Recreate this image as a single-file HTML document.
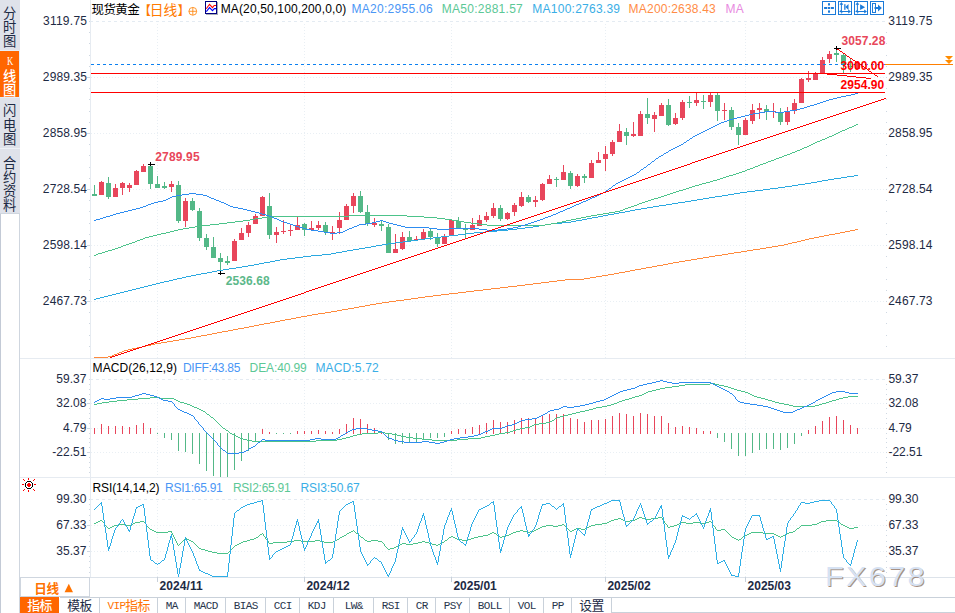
<!DOCTYPE html>
<html lang="zh"><head><meta charset="utf-8"><title>现货黄金 日线</title>
<style>
html,body{margin:0;padding:0;background:#fff;}
body{width:955px;height:613px;position:relative;overflow:hidden;font-family:"Liberation Sans",sans-serif;}
#c{position:absolute;left:0;top:0;}
.t{position:absolute;white-space:pre;font-family:"Liberation Sans",sans-serif;}
</style></head><body>
<svg id="c" width="955" height="613" viewBox="0 0 955 613" shape-rendering="crispEdges">
<rect x="0" y="0" width="20" height="214" fill="#dfe2ea"/>
<rect x="0" y="50" width="20" height="1" fill="#e6eef8"/>
<rect x="0" y="97" width="20" height="1" fill="#e6eef8"/>
<rect x="0" y="148" width="20" height="1" fill="#eef1f6"/>
<rect x="0" y="51" width="19" height="46" fill="#ff6600"/>
<rect x="19" y="51" width="1" height="46" fill="#e6eef8"/>
<rect x="0" y="214" width="1" height="399" fill="#c3cad6"/>
<rect x="19" y="214" width="1" height="399" fill="#cfd6df"/>
<rect x="0" y="213" width="20" height="1" fill="#cfd6df"/>
<g fill="#1d2a44" font-family="'Liberation Sans','Noto Sans CJK SC',sans-serif" font-size="13.3"><text x="2.9" y="18.05">分</text><text x="2.9" y="32.15">时</text><text x="2.9" y="46.25">图</text></g>
<g fill="#ffffff" font-family="'Liberation Sans','Noto Sans CJK SC',sans-serif" font-size="13.3" font-weight="500"><text x="2.9" y="80.85">线</text><text x="2.9" y="95.05">图</text></g>
<g fill="#1d2a44" font-family="'Liberation Sans','Noto Sans CJK SC',sans-serif" font-size="13.3"><text x="2.9" y="115.45">闪</text><text x="2.9" y="129.75">电</text><text x="2.9" y="144.05">图</text></g>
<g fill="#1d2a44" font-family="'Liberation Sans','Noto Sans CJK SC',sans-serif" font-size="13.3"><text x="2.9" y="168.45">合</text><text x="2.9" y="182.35">约</text><text x="2.9" y="196.15">资</text><text x="2.9" y="209.95">料</text></g>
<rect x="90" y="0" width="1" height="577" fill="#e6ebf1"/>
<rect x="20" y="358" width="935" height="1" fill="#e6ebf1"/>
<rect x="20" y="477" width="935" height="1" fill="#e6ebf1"/>
<rect x="20" y="577" width="935" height="1" fill="#dde3ea"/>
<rect x="60" y="597" width="895" height="1" fill="#c9d1da"/>
<rect x="611" y="612" width="344" height="1" fill="#c9d1da"/>
<line x1="90" y1="21.5" x2="885" y2="21.5" stroke="#e4ebf2" stroke-dasharray="3 3"/>
<line x1="91" y1="77.5" x2="885" y2="77.5" stroke="#e9eff4" stroke-dasharray="1 2"/>
<line x1="91" y1="133.5" x2="885" y2="133.5" stroke="#e9eff4" stroke-dasharray="1 2"/>
<line x1="91" y1="189.5" x2="885" y2="189.5" stroke="#e9eff4" stroke-dasharray="1 2"/>
<line x1="91" y1="245.5" x2="885" y2="245.5" stroke="#e9eff4" stroke-dasharray="1 2"/>
<line x1="91" y1="301.5" x2="885" y2="301.5" stroke="#e9eff4" stroke-dasharray="1 2"/>
<line x1="90" y1="379.5" x2="885" y2="379.5" stroke="#e4ebf2" stroke-dasharray="3 3"/>
<line x1="91" y1="403.5" x2="885" y2="403.5" stroke="#e9eff4" stroke-dasharray="1 2"/>
<line x1="91" y1="428.5" x2="885" y2="428.5" stroke="#e9eff4" stroke-dasharray="1 2"/>
<line x1="91" y1="452.5" x2="885" y2="452.5" stroke="#e9eff4" stroke-dasharray="1 2"/>
<line x1="90" y1="499.5" x2="885" y2="499.5" stroke="#e4ebf2" stroke-dasharray="3 3"/>
<line x1="91" y1="525.5" x2="885" y2="525.5" stroke="#e9eff4" stroke-dasharray="1 2"/>
<line x1="91" y1="551.5" x2="885" y2="551.5" stroke="#e9eff4" stroke-dasharray="1 2"/>
<line x1="157.5" y1="24" x2="157.5" y2="358" stroke="#e9eff4" stroke-dasharray="1 2"/>
<line x1="157.5" y1="381" x2="157.5" y2="477" stroke="#e9eff4" stroke-dasharray="1 2"/>
<line x1="157.5" y1="501" x2="157.5" y2="577" stroke="#e9eff4" stroke-dasharray="1 2"/>
<rect x="157" y="577" width="1" height="5" fill="#c9d1da"/>
<line x1="304.5" y1="24" x2="304.5" y2="358" stroke="#e9eff4" stroke-dasharray="1 2"/>
<line x1="304.5" y1="381" x2="304.5" y2="477" stroke="#e9eff4" stroke-dasharray="1 2"/>
<line x1="304.5" y1="501" x2="304.5" y2="577" stroke="#e9eff4" stroke-dasharray="1 2"/>
<rect x="304" y="577" width="1" height="5" fill="#c9d1da"/>
<line x1="451.5" y1="24" x2="451.5" y2="358" stroke="#e9eff4" stroke-dasharray="1 2"/>
<line x1="451.5" y1="381" x2="451.5" y2="477" stroke="#e9eff4" stroke-dasharray="1 2"/>
<line x1="451.5" y1="501" x2="451.5" y2="577" stroke="#e9eff4" stroke-dasharray="1 2"/>
<rect x="451" y="577" width="1" height="5" fill="#c9d1da"/>
<line x1="605.5" y1="24" x2="605.5" y2="358" stroke="#e9eff4" stroke-dasharray="1 2"/>
<line x1="605.5" y1="381" x2="605.5" y2="477" stroke="#e9eff4" stroke-dasharray="1 2"/>
<line x1="605.5" y1="501" x2="605.5" y2="577" stroke="#e9eff4" stroke-dasharray="1 2"/>
<rect x="605" y="577" width="1" height="5" fill="#c9d1da"/>
<line x1="745.5" y1="24" x2="745.5" y2="358" stroke="#e9eff4" stroke-dasharray="1 2"/>
<line x1="745.5" y1="381" x2="745.5" y2="477" stroke="#e9eff4" stroke-dasharray="1 2"/>
<line x1="745.5" y1="501" x2="745.5" y2="577" stroke="#e9eff4" stroke-dasharray="1 2"/>
<rect x="745" y="577" width="1" height="5" fill="#c9d1da"/>
<rect x="89" y="21" width="1" height="1" fill="#cfd8e2"/><rect x="89" y="32" width="1" height="1" fill="#cfd8e2"/><rect x="886" y="32" width="1" height="1" fill="#cfd8e2"/><rect x="89" y="43" width="1" height="1" fill="#cfd8e2"/><rect x="886" y="43" width="1" height="1" fill="#cfd8e2"/><rect x="89" y="55" width="1" height="1" fill="#cfd8e2"/><rect x="886" y="55" width="1" height="1" fill="#cfd8e2"/><rect x="89" y="66" width="1" height="1" fill="#cfd8e2"/><rect x="886" y="66" width="1" height="1" fill="#cfd8e2"/><rect x="87" y="77" width="3" height="1" fill="#cfd8e2"/><rect x="886" y="77" width="1" height="1" fill="#cfd8e2"/><rect x="89" y="88" width="1" height="1" fill="#cfd8e2"/><rect x="886" y="88" width="1" height="1" fill="#cfd8e2"/><rect x="89" y="99" width="1" height="1" fill="#cfd8e2"/><rect x="886" y="99" width="1" height="1" fill="#cfd8e2"/><rect x="89" y="111" width="1" height="1" fill="#cfd8e2"/><rect x="886" y="111" width="1" height="1" fill="#cfd8e2"/><rect x="89" y="122" width="1" height="1" fill="#cfd8e2"/><rect x="886" y="122" width="1" height="1" fill="#cfd8e2"/><rect x="87" y="133" width="3" height="1" fill="#cfd8e2"/><rect x="886" y="133" width="1" height="1" fill="#cfd8e2"/><rect x="89" y="144" width="1" height="1" fill="#cfd8e2"/><rect x="886" y="144" width="1" height="1" fill="#cfd8e2"/><rect x="89" y="155" width="1" height="1" fill="#cfd8e2"/><rect x="886" y="155" width="1" height="1" fill="#cfd8e2"/><rect x="89" y="167" width="1" height="1" fill="#cfd8e2"/><rect x="886" y="167" width="1" height="1" fill="#cfd8e2"/><rect x="89" y="178" width="1" height="1" fill="#cfd8e2"/><rect x="886" y="178" width="1" height="1" fill="#cfd8e2"/><rect x="87" y="189" width="3" height="1" fill="#cfd8e2"/><rect x="886" y="189" width="1" height="1" fill="#cfd8e2"/><rect x="89" y="200" width="1" height="1" fill="#cfd8e2"/><rect x="886" y="200" width="1" height="1" fill="#cfd8e2"/><rect x="89" y="211" width="1" height="1" fill="#cfd8e2"/><rect x="886" y="211" width="1" height="1" fill="#cfd8e2"/><rect x="89" y="223" width="1" height="1" fill="#cfd8e2"/><rect x="886" y="223" width="1" height="1" fill="#cfd8e2"/><rect x="89" y="234" width="1" height="1" fill="#cfd8e2"/><rect x="886" y="234" width="1" height="1" fill="#cfd8e2"/><rect x="87" y="245" width="3" height="1" fill="#cfd8e2"/><rect x="886" y="245" width="1" height="1" fill="#cfd8e2"/><rect x="89" y="256" width="1" height="1" fill="#cfd8e2"/><rect x="886" y="256" width="1" height="1" fill="#cfd8e2"/><rect x="89" y="267" width="1" height="1" fill="#cfd8e2"/><rect x="886" y="267" width="1" height="1" fill="#cfd8e2"/><rect x="89" y="279" width="1" height="1" fill="#cfd8e2"/><rect x="886" y="279" width="1" height="1" fill="#cfd8e2"/><rect x="89" y="290" width="1" height="1" fill="#cfd8e2"/><rect x="886" y="290" width="1" height="1" fill="#cfd8e2"/><rect x="87" y="301" width="3" height="1" fill="#cfd8e2"/><rect x="886" y="301" width="1" height="1" fill="#cfd8e2"/><rect x="89" y="312" width="1" height="1" fill="#cfd8e2"/><rect x="886" y="312" width="1" height="1" fill="#cfd8e2"/><rect x="89" y="323" width="1" height="1" fill="#cfd8e2"/><rect x="886" y="323" width="1" height="1" fill="#cfd8e2"/><rect x="89" y="335" width="1" height="1" fill="#cfd8e2"/><rect x="886" y="335" width="1" height="1" fill="#cfd8e2"/><rect x="89" y="346" width="1" height="1" fill="#cfd8e2"/><rect x="886" y="346" width="1" height="1" fill="#cfd8e2"/>
<rect x="89" y="379" width="1" height="1" fill="#cfd8e2"/><rect x="89" y="384" width="1" height="1" fill="#cfd8e2"/><rect x="886" y="384" width="1" height="1" fill="#cfd8e2"/><rect x="89" y="389" width="1" height="1" fill="#cfd8e2"/><rect x="886" y="389" width="1" height="1" fill="#cfd8e2"/><rect x="89" y="394" width="1" height="1" fill="#cfd8e2"/><rect x="886" y="394" width="1" height="1" fill="#cfd8e2"/><rect x="89" y="399" width="1" height="1" fill="#cfd8e2"/><rect x="886" y="399" width="1" height="1" fill="#cfd8e2"/><rect x="87" y="403" width="3" height="1" fill="#cfd8e2"/><rect x="886" y="403" width="1" height="1" fill="#cfd8e2"/><rect x="89" y="408" width="1" height="1" fill="#cfd8e2"/><rect x="886" y="408" width="1" height="1" fill="#cfd8e2"/><rect x="89" y="413" width="1" height="1" fill="#cfd8e2"/><rect x="886" y="413" width="1" height="1" fill="#cfd8e2"/><rect x="89" y="418" width="1" height="1" fill="#cfd8e2"/><rect x="886" y="418" width="1" height="1" fill="#cfd8e2"/><rect x="89" y="423" width="1" height="1" fill="#cfd8e2"/><rect x="886" y="423" width="1" height="1" fill="#cfd8e2"/><rect x="87" y="428" width="3" height="1" fill="#cfd8e2"/><rect x="886" y="428" width="1" height="1" fill="#cfd8e2"/><rect x="89" y="433" width="1" height="1" fill="#cfd8e2"/><rect x="886" y="433" width="1" height="1" fill="#cfd8e2"/><rect x="89" y="438" width="1" height="1" fill="#cfd8e2"/><rect x="886" y="438" width="1" height="1" fill="#cfd8e2"/><rect x="89" y="442" width="1" height="1" fill="#cfd8e2"/><rect x="886" y="442" width="1" height="1" fill="#cfd8e2"/><rect x="89" y="447" width="1" height="1" fill="#cfd8e2"/><rect x="886" y="447" width="1" height="1" fill="#cfd8e2"/><rect x="87" y="452" width="3" height="1" fill="#cfd8e2"/><rect x="886" y="452" width="1" height="1" fill="#cfd8e2"/><rect x="89" y="457" width="1" height="1" fill="#cfd8e2"/><rect x="886" y="457" width="1" height="1" fill="#cfd8e2"/><rect x="89" y="462" width="1" height="1" fill="#cfd8e2"/><rect x="886" y="462" width="1" height="1" fill="#cfd8e2"/><rect x="89" y="467" width="1" height="1" fill="#cfd8e2"/><rect x="886" y="467" width="1" height="1" fill="#cfd8e2"/><rect x="89" y="472" width="1" height="1" fill="#cfd8e2"/><rect x="886" y="472" width="1" height="1" fill="#cfd8e2"/>
<rect x="89" y="499" width="1" height="1" fill="#cfd8e2"/><rect x="89" y="504" width="1" height="1" fill="#cfd8e2"/><rect x="886" y="504" width="1" height="1" fill="#cfd8e2"/><rect x="89" y="509" width="1" height="1" fill="#cfd8e2"/><rect x="886" y="509" width="1" height="1" fill="#cfd8e2"/><rect x="89" y="515" width="1" height="1" fill="#cfd8e2"/><rect x="886" y="515" width="1" height="1" fill="#cfd8e2"/><rect x="89" y="520" width="1" height="1" fill="#cfd8e2"/><rect x="886" y="520" width="1" height="1" fill="#cfd8e2"/><rect x="87" y="525" width="3" height="1" fill="#cfd8e2"/><rect x="886" y="525" width="1" height="1" fill="#cfd8e2"/><rect x="89" y="530" width="1" height="1" fill="#cfd8e2"/><rect x="886" y="530" width="1" height="1" fill="#cfd8e2"/><rect x="89" y="535" width="1" height="1" fill="#cfd8e2"/><rect x="886" y="535" width="1" height="1" fill="#cfd8e2"/><rect x="89" y="541" width="1" height="1" fill="#cfd8e2"/><rect x="886" y="541" width="1" height="1" fill="#cfd8e2"/><rect x="89" y="546" width="1" height="1" fill="#cfd8e2"/><rect x="886" y="546" width="1" height="1" fill="#cfd8e2"/><rect x="87" y="551" width="3" height="1" fill="#cfd8e2"/><rect x="886" y="551" width="1" height="1" fill="#cfd8e2"/><rect x="89" y="556" width="1" height="1" fill="#cfd8e2"/><rect x="886" y="556" width="1" height="1" fill="#cfd8e2"/><rect x="89" y="561" width="1" height="1" fill="#cfd8e2"/><rect x="886" y="561" width="1" height="1" fill="#cfd8e2"/><rect x="89" y="567" width="1" height="1" fill="#cfd8e2"/><rect x="886" y="567" width="1" height="1" fill="#cfd8e2"/><rect x="89" y="572" width="1" height="1" fill="#cfd8e2"/><rect x="886" y="572" width="1" height="1" fill="#cfd8e2"/>
<rect x="94" y="185" width="1" height="11" fill="#53b887"/><rect x="92" y="194" width="5" height="2" fill="#53b887"/><rect x="101" y="181" width="1" height="14" fill="#e8465b"/><rect x="99" y="182" width="5" height="13" fill="#e8465b"/><rect x="108" y="177" width="1" height="22" fill="#53b887"/><rect x="106" y="183" width="5" height="14" fill="#53b887"/><rect x="115" y="184" width="1" height="13" fill="#e8465b"/><rect x="113" y="188" width="5" height="9" fill="#e8465b"/><rect x="122" y="182" width="1" height="13" fill="#e8465b"/><rect x="120" y="183" width="5" height="5" fill="#e8465b"/><rect x="129" y="183" width="1" height="9" fill="#e8465b"/><rect x="127" y="185" width="5" height="3" fill="#e8465b"/><rect x="136" y="170" width="1" height="15" fill="#e8465b"/><rect x="134" y="171" width="5" height="14" fill="#e8465b"/><rect x="143" y="164" width="1" height="8" fill="#e8465b"/><rect x="141" y="166" width="5" height="6" fill="#e8465b"/><rect x="150" y="164" width="1" height="25" fill="#53b887"/><rect x="148" y="166" width="5" height="18" fill="#53b887"/><rect x="157" y="176" width="1" height="12" fill="#53b887"/><rect x="155" y="184" width="5" height="4" fill="#53b887"/><rect x="164" y="182" width="1" height="7" fill="#53b887"/><rect x="162" y="186" width="5" height="2" fill="#53b887"/><rect x="171" y="181" width="1" height="11" fill="#e8465b"/><rect x="169" y="184" width="5" height="3" fill="#e8465b"/><rect x="178" y="181" width="1" height="42" fill="#53b887"/><rect x="176" y="185" width="5" height="36" fill="#53b887"/><rect x="185" y="198" width="1" height="29" fill="#e8465b"/><rect x="183" y="201" width="5" height="20" fill="#e8465b"/><rect x="192" y="198" width="1" height="13" fill="#53b887"/><rect x="190" y="201" width="5" height="9" fill="#53b887"/><rect x="199" y="208" width="1" height="33" fill="#53b887"/><rect x="197" y="211" width="5" height="27" fill="#53b887"/><rect x="206" y="234" width="1" height="16" fill="#53b887"/><rect x="204" y="238" width="5" height="9" fill="#53b887"/><rect x="213" y="237" width="1" height="21" fill="#53b887"/><rect x="211" y="247" width="5" height="11" fill="#53b887"/><rect x="220" y="253" width="1" height="19" fill="#53b887"/><rect x="218" y="258" width="5" height="4" fill="#53b887"/><rect x="227" y="256" width="1" height="9" fill="#53b887"/><rect x="225" y="261" width="5" height="2" fill="#53b887"/><rect x="234" y="239" width="1" height="22" fill="#e8465b"/><rect x="232" y="241" width="5" height="20" fill="#e8465b"/><rect x="241" y="228" width="1" height="12" fill="#e8465b"/><rect x="239" y="233" width="5" height="7" fill="#e8465b"/><rect x="248" y="222" width="1" height="15" fill="#e8465b"/><rect x="246" y="225" width="5" height="8" fill="#e8465b"/><rect x="255" y="214" width="1" height="10" fill="#e8465b"/><rect x="253" y="216" width="5" height="8" fill="#e8465b"/><rect x="262" y="196" width="1" height="20" fill="#e8465b"/><rect x="260" y="197" width="5" height="19" fill="#e8465b"/><rect x="269" y="193" width="1" height="46" fill="#53b887"/><rect x="267" y="206" width="5" height="29" fill="#53b887"/><rect x="276" y="227" width="1" height="16" fill="#e8465b"/><rect x="274" y="232" width="5" height="3" fill="#e8465b"/><rect x="283" y="220" width="1" height="14" fill="#e8465b"/><rect x="281" y="231" width="5" height="1" fill="#e8465b"/><rect x="290" y="225" width="1" height="11" fill="#e8465b"/><rect x="288" y="230" width="5" height="1" fill="#e8465b"/><rect x="297" y="217" width="1" height="13" fill="#e8465b"/><rect x="295" y="225" width="5" height="5" fill="#e8465b"/><rect x="304" y="223" width="1" height="13" fill="#53b887"/><rect x="302" y="224" width="5" height="6" fill="#53b887"/><rect x="311" y="221" width="1" height="9" fill="#e8465b"/><rect x="309" y="228" width="5" height="2" fill="#e8465b"/><rect x="318" y="221" width="1" height="9" fill="#e8465b"/><rect x="316" y="225" width="5" height="3" fill="#e8465b"/><rect x="325" y="222" width="1" height="13" fill="#53b887"/><rect x="323" y="225" width="5" height="7" fill="#53b887"/><rect x="332" y="226" width="1" height="14" fill="#e8465b"/><rect x="330" y="232" width="5" height="1" fill="#e8465b"/><rect x="339" y="212" width="1" height="22" fill="#e8465b"/><rect x="337" y="220" width="5" height="8" fill="#e8465b"/><rect x="346" y="204" width="1" height="16" fill="#e8465b"/><rect x="344" y="206" width="5" height="14" fill="#e8465b"/><rect x="353" y="193" width="1" height="20" fill="#e8465b"/><rect x="351" y="196" width="5" height="10" fill="#e8465b"/><rect x="360" y="191" width="1" height="22" fill="#53b887"/><rect x="358" y="196" width="5" height="16" fill="#53b887"/><rect x="367" y="205" width="1" height="21" fill="#53b887"/><rect x="365" y="212" width="5" height="12" fill="#53b887"/><rect x="374" y="218" width="1" height="9" fill="#e8465b"/><rect x="372" y="223" width="5" height="2" fill="#e8465b"/><rect x="381" y="220" width="1" height="11" fill="#53b887"/><rect x="379" y="224" width="5" height="2" fill="#53b887"/><rect x="388" y="224" width="1" height="29" fill="#53b887"/><rect x="386" y="227" width="5" height="26" fill="#53b887"/><rect x="395" y="234" width="1" height="19" fill="#e8465b"/><rect x="393" y="249" width="5" height="4" fill="#e8465b"/><rect x="402" y="232" width="1" height="18" fill="#e8465b"/><rect x="400" y="237" width="5" height="12" fill="#e8465b"/><rect x="409" y="231" width="1" height="10" fill="#53b887"/><rect x="407" y="237" width="5" height="4" fill="#53b887"/><rect x="416" y="236" width="1" height="4" fill="#e8465b"/><rect x="414" y="239" width="5" height="1" fill="#e8465b"/><rect x="423" y="229" width="1" height="10" fill="#e8465b"/><rect x="421" y="232" width="5" height="7" fill="#e8465b"/><rect x="430" y="229" width="1" height="11" fill="#53b887"/><rect x="428" y="231" width="5" height="6" fill="#53b887"/><rect x="437" y="233" width="1" height="14" fill="#53b887"/><rect x="435" y="237" width="5" height="7" fill="#53b887"/><rect x="444" y="234" width="1" height="10" fill="#e8465b"/><rect x="442" y="236" width="5" height="8" fill="#e8465b"/><rect x="451" y="219" width="1" height="17" fill="#e8465b"/><rect x="449" y="220" width="5" height="16" fill="#e8465b"/><rect x="458" y="217" width="1" height="12" fill="#53b887"/><rect x="456" y="221" width="5" height="8" fill="#53b887"/><rect x="465" y="224" width="1" height="14" fill="#53b887"/><rect x="463" y="229" width="5" height="1" fill="#53b887"/><rect x="472" y="218" width="1" height="12" fill="#e8465b"/><rect x="470" y="225" width="5" height="5" fill="#e8465b"/><rect x="479" y="215" width="1" height="11" fill="#e8465b"/><rect x="477" y="220" width="5" height="6" fill="#e8465b"/><rect x="486" y="212" width="1" height="10" fill="#e8465b"/><rect x="484" y="216" width="5" height="4" fill="#e8465b"/><rect x="493" y="203" width="1" height="15" fill="#e8465b"/><rect x="491" y="208" width="5" height="8" fill="#e8465b"/><rect x="500" y="205" width="1" height="16" fill="#53b887"/><rect x="498" y="208" width="5" height="11" fill="#53b887"/><rect x="507" y="212" width="1" height="8" fill="#e8465b"/><rect x="505" y="213" width="5" height="6" fill="#e8465b"/><rect x="514" y="203" width="1" height="13" fill="#e8465b"/><rect x="512" y="205" width="5" height="7" fill="#e8465b"/><rect x="521" y="192" width="1" height="15" fill="#e8465b"/><rect x="519" y="197" width="5" height="9" fill="#e8465b"/><rect x="528" y="195" width="1" height="8" fill="#53b887"/><rect x="526" y="197" width="5" height="5" fill="#53b887"/><rect x="535" y="196" width="1" height="11" fill="#e8465b"/><rect x="533" y="200" width="5" height="2" fill="#e8465b"/><rect x="542" y="183" width="1" height="18" fill="#e8465b"/><rect x="540" y="184" width="5" height="16" fill="#e8465b"/><rect x="549" y="175" width="1" height="9" fill="#e8465b"/><rect x="547" y="179" width="5" height="5" fill="#e8465b"/><rect x="556" y="177" width="1" height="10" fill="#53b887"/><rect x="554" y="179" width="5" height="1" fill="#53b887"/><rect x="563" y="165" width="1" height="15" fill="#e8465b"/><rect x="561" y="172" width="5" height="8" fill="#e8465b"/><rect x="570" y="171" width="1" height="18" fill="#53b887"/><rect x="568" y="173" width="5" height="13" fill="#53b887"/><rect x="577" y="174" width="1" height="13" fill="#e8465b"/><rect x="575" y="176" width="5" height="10" fill="#e8465b"/><rect x="584" y="174" width="1" height="9" fill="#53b887"/><rect x="582" y="176" width="5" height="2" fill="#53b887"/><rect x="591" y="160" width="1" height="18" fill="#e8465b"/><rect x="589" y="163" width="5" height="15" fill="#e8465b"/><rect x="598" y="152" width="1" height="11" fill="#e8465b"/><rect x="596" y="160" width="5" height="3" fill="#e8465b"/><rect x="605" y="146" width="1" height="25" fill="#e8465b"/><rect x="603" y="154" width="5" height="5" fill="#e8465b"/><rect x="612" y="140" width="1" height="16" fill="#e8465b"/><rect x="610" y="142" width="5" height="12" fill="#e8465b"/><rect x="619" y="124" width="1" height="18" fill="#e8465b"/><rect x="617" y="131" width="5" height="11" fill="#e8465b"/><rect x="626" y="128" width="1" height="17" fill="#53b887"/><rect x="624" y="132" width="5" height="4" fill="#53b887"/><rect x="633" y="122" width="1" height="15" fill="#e8465b"/><rect x="631" y="134" width="5" height="2" fill="#e8465b"/><rect x="640" y="111" width="1" height="25" fill="#e8465b"/><rect x="638" y="114" width="5" height="22" fill="#e8465b"/><rect x="647" y="98" width="1" height="26" fill="#53b887"/><rect x="645" y="114" width="5" height="4" fill="#53b887"/><rect x="654" y="112" width="1" height="20" fill="#e8465b"/><rect x="652" y="115" width="5" height="4" fill="#e8465b"/><rect x="661" y="103" width="1" height="13" fill="#e8465b"/><rect x="659" y="105" width="5" height="11" fill="#e8465b"/><rect x="668" y="99" width="1" height="27" fill="#53b887"/><rect x="666" y="105" width="5" height="20" fill="#53b887"/><rect x="675" y="113" width="1" height="12" fill="#e8465b"/><rect x="673" y="118" width="5" height="6" fill="#e8465b"/><rect x="682" y="100" width="1" height="20" fill="#e8465b"/><rect x="680" y="102" width="5" height="16" fill="#e8465b"/><rect x="689" y="96" width="1" height="12" fill="#53b887"/><rect x="687" y="102" width="5" height="1" fill="#53b887"/><rect x="696" y="93" width="1" height="13" fill="#e8465b"/><rect x="694" y="100" width="5" height="3" fill="#e8465b"/><rect x="703" y="95" width="1" height="14" fill="#53b887"/><rect x="701" y="101" width="5" height="1" fill="#53b887"/><rect x="710" y="93" width="1" height="14" fill="#e8465b"/><rect x="708" y="95" width="5" height="7" fill="#e8465b"/><rect x="717" y="93" width="1" height="28" fill="#53b887"/><rect x="715" y="95" width="5" height="16" fill="#53b887"/><rect x="724" y="103" width="1" height="17" fill="#e8465b"/><rect x="722" y="110" width="5" height="1" fill="#e8465b"/><rect x="731" y="107" width="1" height="23" fill="#53b887"/><rect x="729" y="110" width="5" height="17" fill="#53b887"/><rect x="738" y="123" width="1" height="22" fill="#53b887"/><rect x="736" y="127" width="5" height="8" fill="#53b887"/><rect x="745" y="118" width="1" height="17" fill="#e8465b"/><rect x="743" y="120" width="5" height="15" fill="#e8465b"/><rect x="752" y="104" width="1" height="20" fill="#e8465b"/><rect x="750" y="110" width="5" height="11" fill="#e8465b"/><rect x="759" y="103" width="1" height="16" fill="#e8465b"/><rect x="757" y="108" width="5" height="2" fill="#e8465b"/><rect x="766" y="105" width="1" height="15" fill="#53b887"/><rect x="764" y="109" width="5" height="3" fill="#53b887"/><rect x="773" y="103" width="1" height="15" fill="#e8465b"/><rect x="771" y="111" width="5" height="1" fill="#e8465b"/><rect x="780" y="108" width="1" height="17" fill="#53b887"/><rect x="778" y="112" width="5" height="10" fill="#53b887"/><rect x="787" y="107" width="1" height="18" fill="#e8465b"/><rect x="785" y="111" width="5" height="11" fill="#e8465b"/><rect x="794" y="99" width="1" height="15" fill="#e8465b"/><rect x="792" y="103" width="5" height="8" fill="#e8465b"/><rect x="801" y="78" width="1" height="25" fill="#e8465b"/><rect x="799" y="79" width="5" height="24" fill="#e8465b"/><rect x="808" y="71" width="1" height="11" fill="#e8465b"/><rect x="806" y="78" width="5" height="2" fill="#e8465b"/><rect x="815" y="72" width="1" height="8" fill="#e8465b"/><rect x="813" y="73" width="5" height="7" fill="#e8465b"/><rect x="822" y="57" width="1" height="17" fill="#e8465b"/><rect x="820" y="60" width="5" height="14" fill="#e8465b"/><rect x="829" y="51" width="1" height="12" fill="#e8465b"/><rect x="827" y="54" width="5" height="5" fill="#e8465b"/><rect x="836" y="48" width="1" height="14" fill="#53b887"/><rect x="834" y="53" width="5" height="2" fill="#53b887"/><rect x="843" y="53" width="1" height="20" fill="#53b887"/><rect x="841" y="55" width="5" height="10" fill="#53b887"/><rect x="850" y="59" width="1" height="13" fill="#53b887"/><rect x="848" y="66" width="5" height="1" fill="#53b887"/><rect x="857" y="63" width="1" height="6" fill="#e8465b"/><rect x="855" y="63" width="5" height="6" fill="#e8465b"/>
<path d="M94,357h14v1h-14zM108,356h4v1h-4zM112,355h2v1h-2zM114,354h3v1h-3zM117,353h2v1h-2zM119,352h3v1h-3zM122,351h2v1h-2zM124,350h4v1h-4zM128,349h4v1h-4zM132,348h5v1h-5zM137,347h5v1h-5zM142,346h4v1h-4zM146,345h5v1h-5zM151,344h4v1h-4zM155,343h6v1h-6zM161,342h6v1h-6zM167,341h6v1h-6zM173,340h6v1h-6zM179,339h6v1h-6zM185,338h6v1h-6zM191,337h5v1h-5zM196,336h5v1h-5zM201,335h6v1h-6zM207,334h5v1h-5zM212,333h5v1h-5zM217,332h5v1h-5zM222,331h6v1h-6zM228,330h5v1h-5zM233,329h5v1h-5zM238,328h6v1h-6zM244,327h5v1h-5zM249,326h5v1h-5zM254,325h5v1h-5zM259,324h5v1h-5zM264,323h6v1h-6zM270,322h5v1h-5zM275,321h5v1h-5zM280,320h5v1h-5zM285,319h6v1h-6zM291,318h5v1h-5zM296,317h5v1h-5zM301,316h6v1h-6zM307,315h5v1h-5zM312,314h6v1h-6zM318,313h7v1h-7zM325,312h6v1h-6zM331,311h6v1h-6zM337,310h5v1h-5zM342,309h6v1h-6zM348,308h6v1h-6zM354,307h5v1h-5zM359,306h6v1h-6zM365,305h5v1h-5zM370,304h6v1h-6zM376,303h6v1h-6zM382,302h7v1h-7zM389,301h7v1h-7zM396,300h8v1h-8zM404,299h7v1h-7zM411,298h7v1h-7zM418,297h7v1h-7zM425,296h8v1h-8zM433,295h8v1h-8zM441,294h8v1h-8zM449,293h9v1h-9zM458,292h8v1h-8zM466,291h8v1h-8zM474,290h9v1h-9zM483,289h8v1h-8zM491,288h9v1h-9zM500,287h8v1h-8zM508,286h9v1h-9zM517,285h8v1h-8zM525,284h8v1h-8zM533,283h8v1h-8zM541,282h8v1h-8zM549,281h8v1h-8zM557,280h8v1h-8zM565,279h19v1h-19zM584,278h6v1h-6zM590,277h6v1h-6zM596,276h6v1h-6zM602,275h6v1h-6zM608,274h6v1h-6zM614,273h5v1h-5zM619,272h6v1h-6zM625,271h5v1h-5zM630,270h5v1h-5zM635,269h6v1h-6zM641,268h5v1h-5zM646,267h6v1h-6zM652,266h5v1h-5zM657,265h6v1h-6zM663,264h5v1h-5zM668,263h5v1h-5zM673,262h6v1h-6zM679,261h6v1h-6zM685,260h6v1h-6zM691,259h6v1h-6zM697,258h6v1h-6zM703,257h6v1h-6zM709,256h6v1h-6zM715,255h7v1h-7zM722,254h6v1h-6zM728,253h6v1h-6zM734,252h7v1h-7zM741,251h6v1h-6zM747,250h6v1h-6zM753,249h7v1h-7zM760,248h6v1h-6zM766,247h6v1h-6zM772,246h6v1h-6zM778,245h6v1h-6zM784,244h4v1h-4zM788,243h4v1h-4zM792,242h5v1h-5zM797,241h4v1h-4zM801,240h4v1h-4zM805,239h4v1h-4zM809,238h5v1h-5zM814,237h5v1h-5zM819,236h5v1h-5zM824,235h5v1h-5zM829,234h6v1h-6zM835,233h5v1h-5zM840,232h5v1h-5zM845,231h5v1h-5zM850,230h5v1h-5zM855,229h3v1h-3z" fill="#ff8a3c" />
<path d="M94,299h2v1h-2zM96,298h4v1h-4zM100,297h4v1h-4zM104,296h4v1h-4zM108,295h4v1h-4zM112,294h4v1h-4zM116,293h4v1h-4zM120,292h4v1h-4zM124,291h4v1h-4zM128,290h4v1h-4zM132,289h4v1h-4zM136,288h4v1h-4zM140,287h4v1h-4zM144,286h4v1h-4zM148,285h4v1h-4zM152,284h4v1h-4zM156,283h4v1h-4zM160,282h4v1h-4zM164,281h5v1h-5zM169,280h4v1h-4zM173,279h4v1h-4zM177,278h5v1h-5zM182,277h4v1h-4zM186,276h5v1h-5zM191,275h5v1h-5zM196,274h5v1h-5zM201,273h6v1h-6zM207,272h5v1h-5zM212,271h5v1h-5zM217,270h6v1h-6zM223,269h6v1h-6zM229,268h7v1h-7zM236,267h6v1h-6zM242,266h6v1h-6zM248,265h6v1h-6zM254,264h5v1h-5zM259,263h5v1h-5zM264,262h6v1h-6zM270,261h5v1h-5zM275,260h5v1h-5zM280,259h7v1h-7zM287,258h8v1h-8zM295,257h8v1h-8zM303,256h8v1h-8zM311,255h11v1h-11zM322,254h9v1h-9zM331,253h5v1h-5zM336,252h6v1h-6zM342,251h5v1h-5zM347,250h6v1h-6zM353,249h6v1h-6zM359,248h6v1h-6zM365,247h6v1h-6zM371,246h5v1h-5zM376,245h6v1h-6zM382,244h6v1h-6zM388,243h7v1h-7zM395,242h8v1h-8zM403,241h8v1h-8zM411,240h7v1h-7zM418,239h7v1h-7zM425,238h8v1h-8zM433,237h8v1h-8zM441,236h8v1h-8zM449,235h9v1h-9zM458,234h8v1h-8zM466,233h8v1h-8zM474,232h11v1h-11zM485,231h12v1h-12zM497,230h11v1h-11zM508,229h9v1h-9zM517,228h8v1h-8zM525,227h8v1h-8zM533,226h6v1h-6zM539,225h6v1h-6zM545,224h6v1h-6zM551,223h11v1h-11zM562,222h9v1h-9zM571,221h5v1h-5zM576,220h6v1h-6zM582,219h5v1h-5zM587,218h5v1h-5zM592,217h6v1h-6zM598,216h5v1h-5zM603,215h5v1h-5zM608,214h6v1h-6zM614,213h5v1h-5zM619,212h6v1h-6zM625,211h5v1h-5zM630,210h5v1h-5zM635,209h6v1h-6zM641,208h6v1h-6zM647,207h6v1h-6zM653,206h6v1h-6zM659,205h7v1h-7zM666,204h6v1h-6zM672,203h6v1h-6zM678,202h7v1h-7zM685,201h6v1h-6zM691,200h6v1h-6zM697,199h6v1h-6zM703,198h6v1h-6zM709,197h6v1h-6zM715,196h7v1h-7zM722,195h6v1h-6zM728,194h6v1h-6zM734,193h6v1h-6zM740,192h7v1h-7zM747,191h8v1h-8zM755,190h8v1h-8zM763,189h7v1h-7zM770,188h8v1h-8zM778,187h7v1h-7zM785,186h7v1h-7zM792,185h6v1h-6zM798,184h7v1h-7zM805,183h6v1h-6zM811,182h6v1h-6zM817,181h5v1h-5zM822,180h6v1h-6zM828,179h6v1h-6zM834,178h7v1h-7zM841,177h6v1h-6zM847,176h7v1h-7zM854,175h4v1h-4z" fill="#2aa8e0" />
<path d="M94,255h2v1h-2zM96,254h2v1h-2zM98,253h4v1h-4zM102,252h3v1h-3zM105,251h3v1h-3zM108,250h4v1h-4zM112,249h3v1h-3zM115,248h3v1h-3zM118,247h3v1h-3zM121,246h2v1h-2zM123,245h3v1h-3zM126,244h3v1h-3zM129,243h3v1h-3zM132,242h3v1h-3zM135,241h2v1h-2zM137,240h3v1h-3zM140,239h3v1h-3zM143,238h2v1h-2zM145,237h4v1h-4zM149,236h4v1h-4zM153,235h4v1h-4zM157,234h4v1h-4zM161,233h5v1h-5zM166,232h4v1h-4zM170,231h4v1h-4zM174,230h4v1h-4zM178,229h5v1h-5zM183,228h6v1h-6zM189,227h6v1h-6zM195,226h7v1h-7zM202,225h8v1h-8zM210,224h9v1h-9zM219,223h8v1h-8zM227,222h8v1h-8zM235,221h8v1h-8zM243,220h7v1h-7zM250,219h5v1h-5zM255,218h7v1h-7zM262,217h8v1h-8zM270,216h79v1h-79zM349,215h58v1h-58zM407,216h17v1h-17zM424,217h13v1h-13zM437,218h8v1h-8zM445,219h7v1h-7zM452,220h6v1h-6zM458,221h6v1h-6zM464,222h7v1h-7zM471,223h8v1h-8zM479,224h8v1h-8zM487,225h58v1h-58zM545,224h6v1h-6zM551,223h6v1h-6zM557,222h5v1h-5zM562,221h4v1h-4zM566,220h5v1h-5zM571,219h5v1h-5zM576,218h5v1h-5zM581,217h5v1h-5zM586,216h5v1h-5zM591,215h6v1h-6zM597,214h6v1h-6zM603,213h6v1h-6zM609,212h6v1h-6zM615,211h5v1h-5zM620,210h3v1h-3zM623,209h2v1h-2zM625,208h3v1h-3zM628,207h3v1h-3zM631,206h3v1h-3zM634,205h3v1h-3zM637,204h2v1h-2zM639,203h3v1h-3zM642,202h3v1h-3zM645,201h3v1h-3zM648,200h3v1h-3zM651,199h3v1h-3zM654,198h4v1h-4zM658,197h3v1h-3zM661,196h3v1h-3zM664,195h3v1h-3zM667,194h3v1h-3zM670,193h3v1h-3zM673,192h3v1h-3zM676,191h3v1h-3zM679,190h4v1h-4zM683,189h3v1h-3zM686,188h3v1h-3zM689,187h3v1h-3zM692,186h3v1h-3zM695,185h4v1h-4zM699,184h3v1h-3zM702,183h4v1h-4zM706,182h4v1h-4zM710,181h3v1h-3zM713,180h4v1h-4zM717,179h3v1h-3zM720,178h3v1h-3zM723,177h3v1h-3zM726,176h3v1h-3zM729,175h4v1h-4zM733,174h3v1h-3zM736,173h3v1h-3zM739,172h3v1h-3zM742,171h3v1h-3zM745,170h2v1h-2zM747,169h3v1h-3zM750,168h3v1h-3zM753,167h2v1h-2zM755,166h3v1h-3zM758,165h2v1h-2zM760,164h3v1h-3zM763,163h3v1h-3zM766,162h2v1h-2zM768,161h3v1h-3zM771,160h3v1h-3zM774,159h2v1h-2zM776,158h3v1h-3zM779,157h3v1h-3zM782,156h2v1h-2zM784,155h3v1h-3zM787,154h3v1h-3zM790,153h2v1h-2zM792,152h3v1h-3zM795,151h2v1h-2zM797,150h3v1h-3zM800,149h2v1h-2zM802,148h2v1h-2zM804,147h3v1h-3zM807,146h2v1h-2zM809,145h2v1h-2zM811,144h2v1h-2zM813,143h2v1h-2zM815,142h2v1h-2zM817,141h3v1h-3zM820,140h2v1h-2zM822,139h3v1h-3zM825,138h2v1h-2zM827,137h2v1h-2zM829,136h3v1h-3zM832,135h2v1h-2zM834,134h2v1h-2zM836,133h2v1h-2zM838,132h2v1h-2zM840,131h2v1h-2zM842,130h3v1h-3zM845,129h2v1h-2zM847,128h2v1h-2zM849,127h3v1h-3zM852,126h2v1h-2zM854,125h2v1h-2zM856,124h2v1h-2z" fill="#4cc38a" />
<path d="M94,220h2v1h-2zM96,219h4v1h-4zM100,218h3v1h-3zM103,217h3v1h-3zM106,216h4v1h-4zM110,215h3v1h-3zM113,214h3v1h-3zM116,213h4v1h-4zM120,212h4v1h-4zM124,211h4v1h-4zM128,210h4v1h-4zM132,209h4v1h-4zM136,208h4v1h-4zM140,207h3v1h-3zM143,206h3v1h-3zM146,205h2v1h-2zM148,204h3v1h-3zM151,203h3v1h-3zM154,202h4v1h-4zM158,201h5v1h-5zM163,200h3v1h-3zM166,199h2v1h-2zM168,198h2v1h-2zM170,197h2v1h-2zM172,196h4v1h-4zM176,195h6v1h-6zM182,194h7v1h-7zM189,193h7v1h-7zM196,194h7v1h-7zM203,195h4v1h-4zM207,196h2v1h-2zM209,197h2v1h-2zM211,198h3v1h-3zM214,199h2v1h-2zM216,200h3v1h-3zM219,201h2v1h-2zM221,202h3v1h-3zM224,203h2v1h-2zM226,204h2v1h-2zM228,205h2v1h-2zM230,206h3v1h-3zM233,207h5v1h-5zM238,208h5v1h-5zM243,209h4v1h-4zM247,210h4v1h-4zM251,211h4v1h-4zM255,212h4v1h-4zM259,213h3v1h-3zM262,214h4v1h-4zM266,215h3v1h-3zM269,216h3v1h-3zM272,217h2v1h-2zM274,218h3v1h-3zM277,219h2v1h-2zM279,220h2v1h-2zM281,221h3v1h-3zM284,222h3v1h-3zM287,223h3v1h-3zM290,224h3v1h-3zM293,225h3v1h-3zM296,226h3v1h-3zM299,227h4v1h-4zM303,228h3v1h-3zM306,229h5v1h-5zM311,230h7v1h-7zM318,231h6v1h-6zM324,232h6v1h-6zM330,233h7v1h-7zM337,232h6v1h-6zM343,231h2v1h-2zM345,230h2v1h-2zM347,229h2v1h-2zM349,228h3v1h-3zM352,227h2v1h-2zM354,226h3v1h-3zM357,225h2v1h-2zM359,224h7v1h-7zM366,223h6v1h-6zM372,222h4v1h-4zM376,221h4v1h-4zM380,220h3v1h-3zM383,221h3v1h-3zM386,222h3v1h-3zM389,223h4v1h-4zM393,224h4v1h-4zM397,225h4v1h-4zM401,226h4v1h-4zM405,227h24v1h-24zM429,228h8v1h-8zM437,229h12v1h-12zM449,228h30v1h-30zM479,229h8v1h-8zM487,230h11v1h-11zM498,229h9v1h-9zM507,228h6v1h-6zM513,227h5v1h-5zM518,226h3v1h-3zM521,225h4v1h-4zM525,224h3v1h-3zM528,223h3v1h-3zM531,222h3v1h-3zM534,221h3v1h-3zM537,220h3v1h-3zM540,219h3v1h-3zM543,218h2v1h-2zM545,217h3v1h-3zM548,216h3v1h-3zM551,215h2v1h-2zM553,214h3v1h-3zM556,213h2v1h-2zM558,212h2v1h-2zM560,211h3v1h-3zM563,210h2v1h-2zM565,209h2v1h-2zM567,208h3v1h-3zM570,207h2v1h-2zM572,206h2v1h-2zM574,205h2v1h-2zM576,204h3v1h-3zM579,203h2v1h-2zM581,202h2v1h-2zM583,201h3v1h-3zM586,200h2v1h-2zM588,199h2v1h-2zM590,198h2v1h-2zM592,197h3v1h-3zM595,196h2v1h-2zM597,195h2v1h-2zM599,194h2v1h-2zM601,193h2v1h-2zM603,192h2v1h-2zM605,191h1v1h-1zM606,190h2v1h-2zM608,189h1v1h-1zM609,188h2v1h-2zM611,187h1v1h-1zM612,186h1v1h-1zM613,185h2v1h-2zM615,184h1v1h-1zM616,183h2v1h-2zM618,182h2v1h-2zM620,181h2v1h-2zM622,180h2v1h-2zM624,179h2v1h-2zM626,178h2v1h-2zM628,177h2v1h-2zM630,176h2v1h-2zM632,175h2v1h-2zM634,174h2v1h-2zM636,173h1v1h-1zM637,172h2v1h-2zM639,171h1v1h-1zM640,170h1v1h-1zM641,169h2v1h-2zM643,168h1v1h-1zM644,167h2v1h-2zM646,166h1v1h-1zM647,165h1v1h-1zM648,164h2v1h-2zM650,163h1v1h-1zM651,162h1v1h-1zM652,161h2v1h-2zM654,160h1v1h-1zM655,159h1v1h-1zM656,158h2v1h-2zM658,157h1v1h-1zM659,156h2v1h-2zM661,155h2v1h-2zM663,154h1v1h-1zM664,153h2v1h-2zM666,152h2v1h-2zM668,151h1v1h-1zM669,150h2v1h-2zM671,149h2v1h-2zM673,148h2v1h-2zM675,147h2v1h-2zM677,146h2v1h-2zM679,145h2v1h-2zM681,144h2v1h-2zM683,143h1v1h-1zM684,142h2v1h-2zM686,141h1v1h-1zM687,140h2v1h-2zM689,139h1v1h-1zM690,138h2v1h-2zM692,137h1v1h-1zM693,136h2v1h-2zM695,135h2v1h-2zM697,134h2v1h-2zM699,133h2v1h-2zM701,132h2v1h-2zM703,131h2v1h-2zM705,130h2v1h-2zM707,129h2v1h-2zM709,128h2v1h-2zM711,127h2v1h-2zM713,126h2v1h-2zM715,125h2v1h-2zM717,124h2v1h-2zM719,123h2v1h-2zM721,122h3v1h-3zM724,121h3v1h-3zM727,120h2v1h-2zM729,119h4v1h-4zM733,118h4v1h-4zM737,117h4v1h-4zM741,116h4v1h-4zM745,115h4v1h-4zM749,114h4v1h-4zM753,113h6v1h-6zM759,112h6v1h-6zM765,111h10v1h-10zM775,112h9v1h-9zM784,111h6v1h-6zM790,110h6v1h-6zM796,109h4v1h-4zM800,108h4v1h-4zM804,107h3v1h-3zM807,106h3v1h-3zM810,105h4v1h-4zM814,104h3v1h-3zM817,103h3v1h-3zM820,102h3v1h-3zM823,101h3v1h-3zM826,100h3v1h-3zM829,99h4v1h-4zM833,98h4v1h-4zM837,97h4v1h-4zM841,96h5v1h-5zM846,95h5v1h-5zM851,94h4v1h-4zM855,93h3v1h-3z" fill="#2d8cf0" />
<line x1="91" y1="64.5" x2="885" y2="64.5" stroke="#0b80f0" stroke-dasharray="3 3"/>
<rect x="91" y="73" width="794" height="1" fill="#ff0000"/>
<rect x="91" y="92" width="794" height="1" fill="#ff0000"/>
<path d="M110,357h2v1h-2zM112,356h3v1h-3zM115,355h3v1h-3zM118,354h3v1h-3zM121,353h3v1h-3zM124,352h3v1h-3zM127,351h3v1h-3zM130,350h3v1h-3zM133,349h3v1h-3zM136,348h3v1h-3zM139,347h3v1h-3zM142,346h3v1h-3zM145,345h3v1h-3zM148,344h3v1h-3zM151,343h3v1h-3zM154,342h3v1h-3zM157,341h3v1h-3zM160,340h3v1h-3zM163,339h3v1h-3zM166,338h3v1h-3zM169,337h3v1h-3zM172,336h3v1h-3zM175,335h3v1h-3zM178,334h3v1h-3zM181,333h3v1h-3zM184,332h3v1h-3zM187,331h3v1h-3zM190,330h3v1h-3zM193,329h3v1h-3zM196,328h3v1h-3zM199,327h3v1h-3zM202,326h3v1h-3zM205,325h3v1h-3zM208,324h3v1h-3zM211,323h3v1h-3zM214,322h3v1h-3zM217,321h3v1h-3zM220,320h3v1h-3zM223,319h3v1h-3zM226,318h3v1h-3zM229,317h3v1h-3zM232,316h3v1h-3zM235,315h3v1h-3zM238,314h3v1h-3zM241,313h3v1h-3zM244,312h3v1h-3zM247,311h3v1h-3zM250,310h3v1h-3zM253,309h3v1h-3zM256,308h3v1h-3zM259,307h3v1h-3zM262,306h3v1h-3zM265,305h3v1h-3zM268,304h3v1h-3zM271,303h3v1h-3zM274,302h3v1h-3zM277,301h3v1h-3zM280,300h3v1h-3zM283,299h3v1h-3zM286,298h3v1h-3zM289,297h3v1h-3zM292,296h3v1h-3zM295,295h3v1h-3zM298,294h3v1h-3zM301,293h3v1h-3zM304,292h2v1h-2zM306,291h3v1h-3zM309,290h3v1h-3zM312,289h3v1h-3zM315,288h3v1h-3zM318,287h3v1h-3zM321,286h3v1h-3zM324,285h3v1h-3zM327,284h3v1h-3zM330,283h3v1h-3zM333,282h3v1h-3zM336,281h3v1h-3zM339,280h3v1h-3zM342,279h3v1h-3zM345,278h3v1h-3zM348,277h3v1h-3zM351,276h3v1h-3zM354,275h3v1h-3zM357,274h3v1h-3zM360,273h3v1h-3zM363,272h3v1h-3zM366,271h3v1h-3zM369,270h3v1h-3zM372,269h3v1h-3zM375,268h3v1h-3zM378,267h3v1h-3zM381,266h3v1h-3zM384,265h3v1h-3zM387,264h3v1h-3zM390,263h3v1h-3zM393,262h3v1h-3zM396,261h3v1h-3zM399,260h3v1h-3zM402,259h3v1h-3zM405,258h3v1h-3zM408,257h3v1h-3zM411,256h3v1h-3zM414,255h3v1h-3zM417,254h3v1h-3zM420,253h3v1h-3zM423,252h3v1h-3zM426,251h3v1h-3zM429,250h3v1h-3zM432,249h3v1h-3zM435,248h3v1h-3zM438,247h3v1h-3zM441,246h3v1h-3zM444,245h3v1h-3zM447,244h3v1h-3zM450,243h3v1h-3zM453,242h3v1h-3zM456,241h3v1h-3zM459,240h3v1h-3zM462,239h3v1h-3zM465,238h3v1h-3zM468,237h3v1h-3zM471,236h3v1h-3zM474,235h3v1h-3zM477,234h3v1h-3zM480,233h3v1h-3zM483,232h3v1h-3zM486,231h3v1h-3zM489,230h3v1h-3zM492,229h3v1h-3zM495,228h3v1h-3zM498,227h3v1h-3zM501,226h3v1h-3zM504,225h3v1h-3zM507,224h3v1h-3zM510,223h3v1h-3zM513,222h3v1h-3zM516,221h3v1h-3zM519,220h3v1h-3zM522,219h3v1h-3zM525,218h3v1h-3zM528,217h3v1h-3zM531,216h3v1h-3zM534,215h3v1h-3zM537,214h3v1h-3zM540,213h3v1h-3zM543,212h3v1h-3zM546,211h3v1h-3zM549,210h3v1h-3zM552,209h3v1h-3zM555,208h3v1h-3zM558,207h3v1h-3zM561,206h3v1h-3zM564,205h3v1h-3zM567,204h3v1h-3zM570,203h3v1h-3zM573,202h3v1h-3zM576,201h3v1h-3zM579,200h3v1h-3zM582,199h3v1h-3zM585,198h3v1h-3zM588,197h3v1h-3zM591,196h3v1h-3zM594,195h3v1h-3zM597,194h3v1h-3zM600,193h3v1h-3zM603,192h3v1h-3zM606,191h3v1h-3zM609,190h3v1h-3zM612,189h3v1h-3zM615,188h3v1h-3zM618,187h3v1h-3zM621,186h3v1h-3zM624,185h3v1h-3zM627,184h3v1h-3zM630,183h3v1h-3zM633,182h3v1h-3zM636,181h3v1h-3zM639,180h3v1h-3zM642,179h3v1h-3zM645,178h3v1h-3zM648,177h3v1h-3zM651,176h3v1h-3zM654,175h3v1h-3zM657,174h3v1h-3zM660,173h3v1h-3zM663,172h3v1h-3zM666,171h3v1h-3zM669,170h3v1h-3zM672,169h3v1h-3zM675,168h3v1h-3zM678,167h3v1h-3zM681,166h3v1h-3zM684,165h3v1h-3zM687,164h3v1h-3zM690,163h2v1h-2zM692,162h3v1h-3zM695,161h3v1h-3zM698,160h3v1h-3zM701,159h3v1h-3zM704,158h3v1h-3zM707,157h3v1h-3zM710,156h3v1h-3zM713,155h3v1h-3zM716,154h3v1h-3zM719,153h3v1h-3zM722,152h3v1h-3zM725,151h3v1h-3zM728,150h3v1h-3zM731,149h3v1h-3zM734,148h3v1h-3zM737,147h3v1h-3zM740,146h3v1h-3zM743,145h3v1h-3zM746,144h3v1h-3zM749,143h3v1h-3zM752,142h3v1h-3zM755,141h3v1h-3zM758,140h3v1h-3zM761,139h3v1h-3zM764,138h3v1h-3zM767,137h3v1h-3zM770,136h3v1h-3zM773,135h3v1h-3zM776,134h3v1h-3zM779,133h3v1h-3zM782,132h3v1h-3zM785,131h3v1h-3zM788,130h3v1h-3zM791,129h3v1h-3zM794,128h3v1h-3zM797,127h3v1h-3zM800,126h3v1h-3zM803,125h3v1h-3zM806,124h3v1h-3zM809,123h3v1h-3zM812,122h3v1h-3zM815,121h3v1h-3zM818,120h3v1h-3zM821,119h3v1h-3zM824,118h3v1h-3zM827,117h3v1h-3zM830,116h3v1h-3zM833,115h3v1h-3zM836,114h3v1h-3zM839,113h3v1h-3zM842,112h3v1h-3zM845,111h3v1h-3zM848,110h3v1h-3zM851,109h3v1h-3zM854,108h3v1h-3zM857,107h3v1h-3zM860,106h3v1h-3zM863,105h3v1h-3zM866,104h3v1h-3zM869,103h3v1h-3zM872,102h3v1h-3zM875,101h3v1h-3zM878,100h3v1h-3zM881,99h3v1h-3zM884,98h2v1h-2z" fill="#ff0000" />
<path d="M836,48h1v1h-1zM837,49h2v1h-2zM839,50h1v1h-1zM840,51h2v1h-2zM842,52h1v1h-1zM843,53h2v1h-2zM845,54h1v1h-1zM846,55h1v1h-1zM847,56h2v1h-2zM849,57h1v1h-1zM850,58h2v1h-2zM852,59h1v1h-1zM853,60h2v1h-2zM855,61h1v1h-1zM856,62h2v1h-2zM858,63h1v1h-1zM859,64h2v1h-2zM861,65h1v1h-1zM862,66h2v1h-2zM864,67h1v1h-1zM865,68h2v1h-2zM867,69h1v1h-1zM868,70h1v1h-1zM869,71h2v1h-2zM871,72h1v1h-1zM872,73h2v1h-2zM874,74h1v1h-1zM875,75h2v1h-2zM877,76h1v1h-1z" fill="#ff0000" />
<path d="M822,73h5v1h-5zM827,74h10v1h-10zM837,75h10v1h-10zM847,76h9v1h-9zM856,77h10v1h-10zM866,78h5v1h-5z" fill="#ff0000" />
<rect x="885" y="64" width="68" height="1" fill="#ff7f00"/>
<path d="M945,56h8l-4,4z M945,60h8l-4,4z" fill="#ff8c00" shape-rendering="geometricPrecision"/>
<rect x="148" y="164" width="7" height="1" fill="#000"/><rect x="150" y="162" width="1" height="4" fill="#000"/>
<rect x="218" y="273" width="7" height="1" fill="#000"/><rect x="220" y="271" width="1" height="4" fill="#000"/>
<rect x="834" y="48" width="7" height="1" fill="#000"/><rect x="836" y="46" width="1" height="4" fill="#000"/>
<rect x="94" y="428" width="1" height="6" fill="#e8465b"/><rect x="101" y="424" width="1" height="10" fill="#e8465b"/><rect x="108" y="426" width="1" height="8" fill="#e8465b"/><rect x="115" y="426" width="1" height="8" fill="#e8465b"/><rect x="122" y="426" width="1" height="8" fill="#e8465b"/><rect x="129" y="427" width="1" height="7" fill="#e8465b"/><rect x="136" y="425" width="1" height="9" fill="#e8465b"/><rect x="143" y="423" width="1" height="11" fill="#e8465b"/><rect x="150" y="428" width="1" height="6" fill="#e8465b"/><rect x="157" y="433" width="1" height="1" fill="#53b887"/><rect x="164" y="433" width="1" height="5" fill="#53b887"/><rect x="171" y="433" width="1" height="7" fill="#53b887"/><rect x="178" y="433" width="1" height="18" fill="#53b887"/><rect x="185" y="433" width="1" height="19" fill="#53b887"/><rect x="192" y="433" width="1" height="21" fill="#53b887"/><rect x="199" y="433" width="1" height="31" fill="#53b887"/><rect x="206" y="433" width="1" height="38" fill="#53b887"/><rect x="213" y="433" width="1" height="43" fill="#53b887"/><rect x="220" y="433" width="1" height="44" fill="#53b887"/><rect x="227" y="433" width="1" height="44" fill="#53b887"/><rect x="234" y="433" width="1" height="37" fill="#53b887"/><rect x="241" y="433" width="1" height="28" fill="#53b887"/><rect x="248" y="433" width="1" height="18" fill="#53b887"/><rect x="255" y="433" width="1" height="8" fill="#53b887"/><rect x="262" y="429" width="1" height="5" fill="#e8465b"/><rect x="269" y="432" width="1" height="2" fill="#e8465b"/><rect x="276" y="433" width="1" height="1" fill="#53b887"/><rect x="283" y="433" width="1" height="1" fill="#53b887"/><rect x="290" y="433" width="1" height="1" fill="#53b887"/><rect x="297" y="431" width="1" height="3" fill="#e8465b"/><rect x="304" y="431" width="1" height="3" fill="#e8465b"/><rect x="311" y="431" width="1" height="3" fill="#e8465b"/><rect x="318" y="430" width="1" height="4" fill="#e8465b"/><rect x="325" y="431" width="1" height="3" fill="#e8465b"/><rect x="332" y="432" width="1" height="2" fill="#e8465b"/><rect x="339" y="429" width="1" height="5" fill="#e8465b"/><rect x="346" y="424" width="1" height="10" fill="#e8465b"/><rect x="353" y="418" width="1" height="16" fill="#e8465b"/><rect x="360" y="419" width="1" height="15" fill="#e8465b"/><rect x="367" y="424" width="1" height="10" fill="#e8465b"/><rect x="374" y="428" width="1" height="6" fill="#e8465b"/><rect x="381" y="431" width="1" height="3" fill="#e8465b"/><rect x="388" y="433" width="1" height="7" fill="#53b887"/><rect x="395" y="433" width="1" height="11" fill="#53b887"/><rect x="402" y="433" width="1" height="11" fill="#53b887"/><rect x="409" y="433" width="1" height="10" fill="#53b887"/><rect x="416" y="433" width="1" height="9" fill="#53b887"/><rect x="423" y="433" width="1" height="7" fill="#53b887"/><rect x="430" y="433" width="1" height="5" fill="#53b887"/><rect x="437" y="433" width="1" height="5" fill="#53b887"/><rect x="444" y="433" width="1" height="4" fill="#53b887"/><rect x="451" y="431" width="1" height="3" fill="#e8465b"/><rect x="458" y="429" width="1" height="5" fill="#e8465b"/><rect x="465" y="429" width="1" height="5" fill="#e8465b"/><rect x="472" y="427" width="1" height="7" fill="#e8465b"/><rect x="479" y="425" width="1" height="9" fill="#e8465b"/><rect x="486" y="423" width="1" height="11" fill="#e8465b"/><rect x="493" y="420" width="1" height="14" fill="#e8465b"/><rect x="500" y="422" width="1" height="12" fill="#e8465b"/><rect x="507" y="422" width="1" height="12" fill="#e8465b"/><rect x="514" y="420" width="1" height="14" fill="#e8465b"/><rect x="521" y="418" width="1" height="16" fill="#e8465b"/><rect x="528" y="418" width="1" height="16" fill="#e8465b"/><rect x="535" y="418" width="1" height="16" fill="#e8465b"/><rect x="542" y="416" width="1" height="18" fill="#e8465b"/><rect x="549" y="414" width="1" height="20" fill="#e8465b"/><rect x="556" y="414" width="1" height="20" fill="#e8465b"/><rect x="563" y="414" width="1" height="20" fill="#e8465b"/><rect x="570" y="418" width="1" height="16" fill="#e8465b"/><rect x="577" y="419" width="1" height="15" fill="#e8465b"/><rect x="584" y="422" width="1" height="12" fill="#e8465b"/><rect x="591" y="420" width="1" height="14" fill="#e8465b"/><rect x="598" y="420" width="1" height="14" fill="#e8465b"/><rect x="605" y="419" width="1" height="15" fill="#e8465b"/><rect x="612" y="416" width="1" height="18" fill="#e8465b"/><rect x="619" y="413" width="1" height="21" fill="#e8465b"/><rect x="626" y="414" width="1" height="20" fill="#e8465b"/><rect x="633" y="416" width="1" height="18" fill="#e8465b"/><rect x="640" y="413" width="1" height="21" fill="#e8465b"/><rect x="647" y="414" width="1" height="20" fill="#e8465b"/><rect x="654" y="416" width="1" height="18" fill="#e8465b"/><rect x="661" y="416" width="1" height="18" fill="#e8465b"/><rect x="668" y="423" width="1" height="11" fill="#e8465b"/><rect x="675" y="427" width="1" height="7" fill="#e8465b"/><rect x="682" y="426" width="1" height="8" fill="#e8465b"/><rect x="689" y="427" width="1" height="7" fill="#e8465b"/><rect x="696" y="428" width="1" height="6" fill="#e8465b"/><rect x="703" y="431" width="1" height="3" fill="#e8465b"/><rect x="710" y="431" width="1" height="3" fill="#e8465b"/><rect x="717" y="433" width="1" height="5" fill="#53b887"/><rect x="724" y="433" width="1" height="9" fill="#53b887"/><rect x="731" y="433" width="1" height="16" fill="#53b887"/><rect x="738" y="433" width="1" height="23" fill="#53b887"/><rect x="745" y="433" width="1" height="23" fill="#53b887"/><rect x="752" y="433" width="1" height="20" fill="#53b887"/><rect x="759" y="433" width="1" height="17" fill="#53b887"/><rect x="766" y="433" width="1" height="16" fill="#53b887"/><rect x="773" y="433" width="1" height="16" fill="#53b887"/><rect x="780" y="433" width="1" height="17" fill="#53b887"/><rect x="787" y="433" width="1" height="15" fill="#53b887"/><rect x="794" y="433" width="1" height="11" fill="#53b887"/><rect x="801" y="433" width="1" height="3" fill="#53b887"/><rect x="808" y="430" width="1" height="4" fill="#e8465b"/><rect x="815" y="426" width="1" height="8" fill="#e8465b"/><rect x="822" y="421" width="1" height="13" fill="#e8465b"/><rect x="829" y="417" width="1" height="17" fill="#e8465b"/><rect x="836" y="416" width="1" height="18" fill="#e8465b"/><rect x="843" y="420" width="1" height="14" fill="#e8465b"/><rect x="850" y="425" width="1" height="9" fill="#e8465b"/><rect x="857" y="428" width="1" height="6" fill="#e8465b"/>
<path d="M94,404h3v1h-3zM97,403h5v1h-5zM102,402h7v1h-7zM109,401h8v1h-8zM117,400h10v1h-10zM127,399h11v1h-11zM138,398h12v1h-12zM150,397h10v1h-10zM160,398h14v1h-14zM174,399h2v1h-2zM176,400h2v1h-2zM178,401h2v1h-2zM180,402h4v1h-4zM184,403h3v1h-3zM187,404h3v1h-3zM190,405h2v1h-2zM192,406h2v1h-2zM194,407h3v1h-3zM197,408h2v1h-2zM199,409h2v1h-2zM201,410h2v1h-2zM203,411h2v1h-2zM205,412h1v1h-1zM206,413h1v1h-1zM207,414h2v1h-2zM209,415h1v1h-1zM210,416h1v1h-1zM211,417h2v1h-2zM213,418h1v1h-1zM214,419h1v1h-1zM215,420h1v1h-1zM216,421h1v1h-1zM217,422h1v1h-1zM218,423h1v1h-1zM219,424h1v1h-1zM220,425h1v1h-1zM221,426h1v1h-1zM222,427h1v1h-1zM223,428h2v1h-2zM225,429h1v1h-1zM226,430h2v1h-2zM228,431h1v1h-1zM229,432h1v1h-1zM230,433h2v1h-2zM232,434h2v1h-2zM234,435h2v1h-2zM236,436h2v1h-2zM238,437h2v1h-2zM240,438h3v1h-3zM243,439h4v1h-4zM247,440h5v1h-5zM252,441h64v1h-64zM316,440h21v1h-21zM337,439h5v1h-5zM342,438h4v1h-4zM346,437h4v1h-4zM350,436h3v1h-3zM353,435h4v1h-4zM357,434h5v1h-5zM362,433h16v1h-16zM378,432h7v1h-7zM385,433h7v1h-7zM392,434h5v1h-5zM397,435h4v1h-4zM401,436h5v1h-5zM406,437h7v1h-7zM413,438h9v1h-9zM422,439h10v1h-10zM432,440h25v1h-25zM457,439h11v1h-11zM468,438h13v1h-13zM481,437h4v1h-4zM485,436h5v1h-5zM490,435h5v1h-5zM495,434h4v1h-4zM499,433h6v1h-6zM505,432h5v1h-5zM510,431h3v1h-3zM513,430h3v1h-3zM516,429h4v1h-4zM520,428h5v1h-5zM525,427h5v1h-5zM530,426h2v1h-2zM532,425h2v1h-2zM534,424h5v1h-5zM539,423h7v1h-7zM546,422h4v1h-4zM550,421h2v1h-2zM552,420h2v1h-2zM554,419h1v1h-1zM555,418h2v1h-2zM557,417h3v1h-3zM560,416h4v1h-4zM564,415h4v1h-4zM568,414h4v1h-4zM572,413h4v1h-4zM576,412h4v1h-4zM580,411h5v1h-5zM585,410h4v1h-4zM589,409h4v1h-4zM593,408h3v1h-3zM596,407h6v1h-6zM602,406h5v1h-5zM607,405h4v1h-4zM611,404h3v1h-3zM614,403h3v1h-3zM617,402h2v1h-2zM619,401h3v1h-3zM622,400h3v1h-3zM625,399h4v1h-4zM629,398h3v1h-3zM632,397h3v1h-3zM635,396h4v1h-4zM639,395h3v1h-3zM642,394h2v1h-2zM644,393h2v1h-2zM646,392h2v1h-2zM648,391h4v1h-4zM652,390h4v1h-4zM656,389h4v1h-4zM660,388h5v1h-5zM665,387h7v1h-7zM672,386h7v1h-7zM679,385h6v1h-6zM685,384h25v1h-25zM710,383h5v1h-5zM715,384h4v1h-4zM719,385h5v1h-5zM724,386h4v1h-4zM728,387h3v1h-3zM731,388h3v1h-3zM734,389h3v1h-3zM737,390h4v1h-4zM741,391h4v1h-4zM745,392h3v1h-3zM748,393h2v1h-2zM750,394h2v1h-2zM752,395h2v1h-2zM754,396h3v1h-3zM757,397h4v1h-4zM761,398h4v1h-4zM765,399h3v1h-3zM768,400h4v1h-4zM772,401h3v1h-3zM775,402h4v1h-4zM779,403h5v1h-5zM784,404h5v1h-5zM789,405h4v1h-4zM793,406h22v1h-22zM815,405h4v1h-4zM819,404h3v1h-3zM822,403h4v1h-4zM826,402h3v1h-3zM829,401h3v1h-3zM832,400h4v1h-4zM836,399h3v1h-3zM839,398h4v1h-4zM843,397h5v1h-5zM848,396h10v1h-10z" fill="#4cc38a" />
<path d="M94,402h1v1h-1zM95,401h2v1h-2zM97,400h2v1h-2zM99,399h2v1h-2zM101,398h3v1h-3zM104,399h6v1h-6zM110,398h6v1h-6zM116,397h16v1h-16zM132,396h3v1h-3zM135,395h4v1h-4zM139,394h3v1h-3zM142,393h4v1h-4zM146,394h4v1h-4zM150,395h4v1h-4zM154,396h3v1h-3zM157,397h2v1h-2zM159,398h2v1h-2zM161,399h2v1h-2zM163,400h5v1h-5zM168,401h4v1h-4zM172,402h1v1h-1zM173,403h1v1h-1zM174,404h1v1h-1zM174,405h1v1h-1zM175,406h1v1h-1zM176,407h1v1h-1zM177,408h1v1h-1zM178,409h2v1h-2zM180,410h2v1h-2zM182,411h2v1h-2zM184,412h3v1h-3zM187,413h2v1h-2zM189,414h2v1h-2zM191,415h2v1h-2zM193,416h1v1h-1zM194,417h1v1h-1zM194,418h1v1h-1zM195,419h1v1h-1zM196,420h1v1h-1zM197,421h1v1h-1zM198,422h1v1h-1zM198,423h1v1h-1zM199,424h1v1h-1zM200,425h1v1h-1zM201,426h1v1h-1zM202,427h1v1h-1zM203,428h1v1h-1zM203,429h1v1h-1zM204,430h1v1h-1zM205,431h1v1h-1zM206,432h1v1h-1zM207,433h1v1h-1zM208,434h1v1h-1zM209,435h1v1h-1zM210,436h1v1h-1zM211,437h1v1h-1zM212,438h1v1h-1zM213,439h1v1h-1zM214,440h1v1h-1zM215,441h1v1h-1zM216,442h1v1h-1zM217,443h1v1h-1zM217,444h1v1h-1zM218,445h1v1h-1zM219,446h1v1h-1zM220,447h1v1h-1zM221,448h1v1h-1zM222,449h1v1h-1zM223,450h2v1h-2zM225,451h1v1h-1zM226,452h1v1h-1zM227,453h12v1h-12zM239,452h5v1h-5zM244,451h2v1h-2zM246,450h2v1h-2zM248,449h1v1h-1zM249,448h2v1h-2zM251,447h2v1h-2zM253,446h2v1h-2zM255,445h1v1h-1zM256,444h1v1h-1zM257,443h1v1h-1zM258,442h2v1h-2zM260,441h1v1h-1zM261,440h1v1h-1zM262,439h3v1h-3zM265,440h45v1h-45zM310,439h5v1h-5zM315,438h6v1h-6zM321,439h15v1h-15zM336,438h2v1h-2zM338,437h2v1h-2zM340,436h1v1h-1zM341,435h2v1h-2zM343,434h2v1h-2zM345,433h1v1h-1zM346,432h2v1h-2zM348,431h2v1h-2zM350,430h2v1h-2zM352,429h4v1h-4zM356,428h11v1h-11zM367,429h5v1h-5zM372,430h6v1h-6zM378,431h4v1h-4zM382,432h1v1h-1zM383,433h1v1h-1zM384,434h1v1h-1zM385,435h1v1h-1zM386,436h1v1h-1zM387,437h2v1h-2zM389,438h3v1h-3zM392,439h2v1h-2zM394,440h4v1h-4zM398,441h6v1h-6zM404,442h18v1h-18zM422,441h7v1h-7zM429,442h6v1h-6zM435,443h5v1h-5zM440,442h4v1h-4zM444,441h3v1h-3zM447,440h3v1h-3zM450,439h4v1h-4zM454,438h6v1h-6zM460,437h8v1h-8zM468,436h6v1h-6zM474,435h4v1h-4zM478,434h3v1h-3zM481,433h2v1h-2zM483,432h2v1h-2zM485,431h3v1h-3zM488,430h2v1h-2zM490,429h2v1h-2zM492,428h10v1h-10zM502,427h3v1h-3zM505,426h2v1h-2zM507,425h5v1h-5zM512,424h3v1h-3zM515,423h2v1h-2zM517,422h2v1h-2zM519,421h2v1h-2zM521,420h4v1h-4zM525,419h7v1h-7zM532,418h5v1h-5zM537,417h2v1h-2zM539,416h2v1h-2zM541,415h2v1h-2zM543,414h2v1h-2zM545,413h2v1h-2zM547,412h1v1h-1zM548,411h2v1h-2zM550,410h4v1h-4zM554,409h5v1h-5zM559,408h2v1h-2zM561,407h2v1h-2zM563,406h4v1h-4zM567,407h7v1h-7zM574,406h6v1h-6zM580,405h5v1h-5zM585,404h4v1h-4zM589,403h4v1h-4zM593,402h3v1h-3zM596,401h4v1h-4zM600,400h4v1h-4zM604,399h2v1h-2zM606,398h2v1h-2zM608,397h2v1h-2zM610,396h2v1h-2zM612,395h2v1h-2zM614,394h2v1h-2zM616,393h2v1h-2zM618,392h2v1h-2zM620,391h3v1h-3zM623,390h4v1h-4zM627,389h4v1h-4zM631,388h4v1h-4zM635,387h2v1h-2zM637,386h2v1h-2zM639,385h4v1h-4zM643,384h4v1h-4zM647,383h5v1h-5zM652,382h4v1h-4zM656,381h4v1h-4zM660,380h3v1h-3zM663,381h4v1h-4zM667,382h5v1h-5zM672,383h7v1h-7zM679,382h32v1h-32zM711,383h2v1h-2zM713,384h2v1h-2zM715,385h2v1h-2zM717,386h2v1h-2zM719,387h2v1h-2zM721,388h2v1h-2zM723,389h2v1h-2zM725,390h2v1h-2zM727,391h2v1h-2zM729,392h1v1h-1zM730,393h2v1h-2zM732,394h1v1h-1zM733,395h1v1h-1zM734,396h1v1h-1zM735,397h1v1h-1zM735,398h1v1h-1zM736,399h1v1h-1zM737,400h1v1h-1zM738,401h2v1h-2zM740,402h4v1h-4zM744,403h6v1h-6zM750,404h7v1h-7zM757,405h6v1h-6zM763,406h5v1h-5zM768,407h3v1h-3zM771,408h3v1h-3zM774,409h3v1h-3zM777,410h3v1h-3zM780,411h3v1h-3zM783,412h10v1h-10zM793,411h2v1h-2zM795,410h2v1h-2zM797,409h3v1h-3zM800,408h2v1h-2zM802,407h2v1h-2zM804,406h3v1h-3zM807,405h2v1h-2zM809,404h2v1h-2zM811,403h2v1h-2zM813,402h2v1h-2zM815,401h1v1h-1zM816,400h2v1h-2zM818,399h2v1h-2zM820,398h2v1h-2zM822,397h2v1h-2zM824,396h2v1h-2zM826,395h2v1h-2zM828,394h2v1h-2zM830,393h2v1h-2zM832,392h4v1h-4zM836,391h9v1h-9zM845,392h4v1h-4zM849,393h9v1h-9z" fill="#2d8cf0" />
<path d="M94,523h2v1h-2zM96,522h2v1h-2zM98,521h2v1h-2zM100,520h2v1h-2zM102,521h1v1h-1zM103,522h1v1h-1zM104,523h1v1h-1zM104,524h1v1h-1zM105,525h1v1h-1zM106,526h1v1h-1zM107,527h1v1h-1zM108,528h2v1h-2zM110,527h2v1h-2zM112,526h2v1h-2zM114,525h5v1h-5zM119,524h7v1h-7zM126,525h5v1h-5zM131,524h2v1h-2zM133,523h2v1h-2zM135,522h5v1h-5zM140,521h4v1h-4zM144,522h1v1h-1zM145,523h1v1h-1zM146,524h1v1h-1zM146,525h1v1h-1zM147,526h1v1h-1zM148,527h1v1h-1zM149,528h1v1h-1zM150,529h2v1h-2zM152,530h2v1h-2zM154,531h2v1h-2zM156,532h12v1h-12zM168,531h4v1h-4zM171,532h1v1h-1zM172,533h1v1h-1zM172,534h1v1h-1zM173,535h1v1h-1zM173,536h1v1h-1zM174,537h1v1h-1zM174,538h1v1h-1zM175,539h1v1h-1zM175,540h1v1h-1zM176,541h1v1h-1zM176,542h1v1h-1zM177,543h1v1h-1zM177,544h1v1h-1zM178,545h1v1h-1zM179,544h1v1h-1zM180,543h1v1h-1zM181,542h1v1h-1zM182,541h1v1h-1zM183,540h1v1h-1zM184,539h1v1h-1zM185,538h2v1h-2zM187,539h2v1h-2zM189,540h2v1h-2zM191,541h2v1h-2zM193,542h1v1h-1zM194,543h1v1h-1zM195,544h1v1h-1zM196,545h1v1h-1zM197,546h1v1h-1zM198,547h1v1h-1zM199,548h2v1h-2zM201,549h4v1h-4zM205,550h3v1h-3zM208,551h4v1h-4zM212,552h5v1h-5zM217,553h11v1h-11zM228,552h1v1h-1zM229,551h1v1h-1zM230,550h1v1h-1zM231,549h1v1h-1zM232,548h1v1h-1zM233,547h1v1h-1zM234,546h1v1h-1zM235,545h2v1h-2zM237,544h2v1h-2zM239,543h2v1h-2zM241,542h2v1h-2zM243,541h4v1h-4zM247,540h3v1h-3zM250,539h4v1h-4zM254,538h2v1h-2zM256,537h2v1h-2zM258,536h1v1h-1zM259,535h1v1h-1zM260,534h2v1h-2zM262,533h1v1h-1zM263,534h1v1h-1zM263,535h1v1h-1zM264,536h1v1h-1zM265,537h1v1h-1zM265,538h1v1h-1zM266,539h1v1h-1zM267,540h1v1h-1zM268,541h1v1h-1zM268,542h1v1h-1zM269,543h4v1h-4zM273,542h14v1h-14zM287,541h7v1h-7zM294,540h7v1h-7zM301,541h14v1h-14zM315,540h5v1h-5zM320,541h4v1h-4zM324,542h9v1h-9zM333,541h2v1h-2zM335,540h2v1h-2zM337,539h2v1h-2zM339,538h1v1h-1zM340,537h2v1h-2zM342,536h2v1h-2zM344,535h2v1h-2zM346,534h1v1h-1zM347,533h2v1h-2zM349,532h2v1h-2zM351,531h2v1h-2zM353,530h1v1h-1zM354,531h1v1h-1zM355,532h1v1h-1zM356,533h2v1h-2zM358,534h1v1h-1zM359,535h1v1h-1zM360,536h1v1h-1zM361,537h2v1h-2zM363,538h1v1h-1zM364,539h1v1h-1zM365,540h2v1h-2zM367,541h4v1h-4zM371,540h7v1h-7zM378,541h4v1h-4zM382,542h1v1h-1zM383,543h1v1h-1zM384,544h1v1h-1zM384,545h1v1h-1zM385,546h1v1h-1zM386,547h1v1h-1zM387,548h1v1h-1zM388,549h2v1h-2zM390,548h4v1h-4zM394,547h2v1h-2zM396,546h2v1h-2zM398,545h2v1h-2zM400,544h2v1h-2zM402,543h4v1h-4zM406,544h7v1h-7zM413,543h5v1h-5zM418,542h4v1h-4zM422,541h3v1h-3zM425,542h4v1h-4zM429,543h3v1h-3zM432,544h4v1h-4zM436,545h2v1h-2zM438,544h2v1h-2zM440,543h2v1h-2zM442,542h2v1h-2zM444,541h1v1h-1zM445,540h2v1h-2zM447,539h1v1h-1zM448,538h1v1h-1zM449,537h2v1h-2zM451,536h2v1h-2zM453,537h2v1h-2zM455,538h2v1h-2zM457,539h5v1h-5zM462,540h5v1h-5zM467,539h4v1h-4zM471,538h3v1h-3zM474,537h4v1h-4zM478,536h5v1h-5zM483,535h5v1h-5zM488,534h2v1h-2zM490,533h2v1h-2zM492,532h2v1h-2zM494,533h2v1h-2zM496,534h1v1h-1zM497,535h1v1h-1zM498,536h2v1h-2zM500,537h2v1h-2zM502,536h4v1h-4zM506,535h3v1h-3zM509,534h2v1h-2zM511,533h2v1h-2zM513,532h3v1h-3zM516,531h4v1h-4zM520,530h3v1h-3zM523,531h4v1h-4zM527,532h3v1h-3zM530,531h4v1h-4zM534,530h2v1h-2zM536,529h2v1h-2zM538,528h2v1h-2zM540,527h2v1h-2zM542,526h4v1h-4zM546,525h7v1h-7zM553,526h5v1h-5zM558,525h4v1h-4zM562,524h2v1h-2zM564,525h1v1h-1zM565,526h1v1h-1zM566,527h1v1h-1zM567,528h1v1h-1zM568,529h1v1h-1zM569,530h1v1h-1zM570,531h2v1h-2zM572,530h2v1h-2zM574,529h2v1h-2zM576,528h5v1h-5zM581,529h4v1h-4zM585,528h2v1h-2zM587,527h2v1h-2zM589,526h2v1h-2zM591,525h4v1h-4zM595,524h7v1h-7zM602,523h5v1h-5zM607,522h2v1h-2zM609,521h2v1h-2zM611,520h3v1h-3zM614,519h4v1h-4zM618,518h3v1h-3zM621,519h2v1h-2zM623,520h2v1h-2zM625,521h5v1h-5zM630,520h5v1h-5zM635,519h2v1h-2zM637,518h2v1h-2zM639,517h3v1h-3zM642,518h4v1h-4zM646,519h5v1h-5zM651,518h7v1h-7zM658,517h4v1h-4zM662,518h1v1h-1zM662,519h1v1h-1zM663,520h1v1h-1zM664,521h1v1h-1zM664,522h1v1h-1zM665,523h1v1h-1zM666,524h1v1h-1zM667,525h1v1h-1zM667,526h1v1h-1zM668,527h2v1h-2zM670,526h4v1h-4zM674,525h3v1h-3zM677,524h2v1h-2zM679,523h2v1h-2zM681,522h5v1h-5zM686,523h7v1h-7zM693,522h7v1h-7zM700,523h5v1h-5zM705,522h4v1h-4zM709,521h2v1h-2zM711,522h1v1h-1zM712,523h1v1h-1zM712,524h1v1h-1zM713,525h1v1h-1zM714,526h1v1h-1zM715,527h1v1h-1zM715,528h1v1h-1zM716,529h1v1h-1zM717,530h4v1h-4zM721,529h4v1h-4zM725,530h1v1h-1zM726,531h1v1h-1zM727,532h1v1h-1zM728,533h1v1h-1zM729,534h1v1h-1zM730,535h1v1h-1zM731,536h1v1h-1zM732,537h2v1h-2zM734,538h2v1h-2zM736,539h2v1h-2zM738,540h1v1h-1zM739,539h2v1h-2zM741,538h1v1h-1zM742,537h1v1h-1zM743,536h2v1h-2zM745,535h2v1h-2zM747,534h2v1h-2zM749,533h2v1h-2zM751,532h12v1h-12zM763,533h11v1h-11zM774,534h2v1h-2zM776,535h2v1h-2zM778,536h2v1h-2zM780,537h1v1h-1zM781,536h2v1h-2zM783,535h2v1h-2zM785,534h2v1h-2zM787,533h2v1h-2zM789,532h4v1h-4zM793,531h2v1h-2zM795,530h1v1h-1zM796,529h1v1h-1zM797,528h2v1h-2zM799,527h1v1h-1zM800,526h1v1h-1zM801,525h11v1h-11zM812,524h5v1h-5zM817,523h2v1h-2zM819,522h2v1h-2zM821,521h5v1h-5zM826,520h11v1h-11zM837,521h2v1h-2zM839,522h1v1h-1zM840,523h1v1h-1zM841,524h2v1h-2zM843,525h2v1h-2zM845,526h2v1h-2zM847,527h2v1h-2zM849,528h5v1h-5zM854,527h4v1h-4z" fill="#4cc38a" />
<path d="M94,509v1h1v-1zM95,508v1h1v-1zM96,507v1h1v-1zM97,506v1h1v-1zM98,505v1h1v-1zM99,504v1h1v-1zM100,503v1h1v-1zM101,502v4h1v-4zM102,506v7h1v-7zM103,513v7h1v-7zM104,520v7h1v-7zM105,527v6h1v-6zM106,533v7h1v-7zM107,540v7h1v-7zM108,547v4h1v-4zM109,546v3h1v-3zM110,543v3h1v-3zM111,539v4h1v-4zM112,536v3h1v-3zM113,533v3h1v-3zM114,530v3h1v-3zM115,528v2h1v-2zM116,527v1h1v-1zM117,525v2h1v-2zM118,524v1h1v-1zM119,523v1h1v-1zM120,521v2h1v-2zM121,520v1h1v-1zM122,519v1h1v-1zM123,520v2h1v-2zM124,522v2h1v-2zM125,524v2h1v-2zM126,526v1h1v-1zM127,527v2h1v-2zM128,529v2h1v-2zM129,530v2h1v-2zM130,526v4h1v-4zM131,523v3h1v-3zM132,519v4h1v-4zM133,516v3h1v-3zM134,513v3h1v-3zM135,509v4h1v-4zM136,507v2h1v-2zM137,507v1h1v-1zM138,506v1h1v-1zM139,506v1h1v-1zM140,505v1h1v-1zM141,505v1h1v-1zM142,504v1h1v-1zM143,504v4h1v-4zM144,508v8h1v-8zM145,516v8h1v-8zM146,524v8h1v-8zM147,532v8h1v-8zM148,540v8h1v-8zM149,548v8h1v-8zM150,556v4h1v-4zM151,560v1h1v-1zM152,560v1h1v-1zM153,561v1h1v-1zM154,562v1h1v-1zM155,563v1h1v-1zM156,563v1h1v-1zM157,564v1h1v-1zM158,563v1h1v-1zM159,563v1h1v-1zM160,562v1h1v-1zM161,561v1h1v-1zM162,560v1h1v-1zM163,560v1h1v-1zM164,558v2h1v-2zM165,554v4h1v-4zM166,551v3h1v-3zM167,547v4h1v-4zM168,543v4h1v-4zM169,540v3h1v-3zM170,536v4h1v-4zM171,534v4h1v-4zM172,538v6h1v-6zM173,544v6h1v-6zM174,550v6h1v-6zM175,556v6h1v-6zM176,562v6h1v-6zM177,568v6h1v-6zM178,574v3h1v-3zM179,568v6h1v-6zM180,563v5h1v-5zM181,557v6h1v-6zM182,551v6h1v-6zM183,546v5h1v-5zM184,540v6h1v-6zM185,537v3h1v-3zM186,539v2h1v-2zM187,541v2h1v-2zM188,543v2h1v-2zM189,545v2h1v-2zM190,547v2h1v-2zM191,549v2h1v-2zM192,551v2h1v-2zM193,553v3h1v-3zM194,556v2h1v-2zM195,558v3h1v-3zM196,561v3h1v-3zM197,564v2h1v-2zM198,566v3h1v-3zM199,569v2h1v-2zM200,570v1h1v-1zM201,571v1h1v-1zM202,571v1h1v-1zM203,572v1h1v-1zM204,572v1h1v-1zM205,573v1h1v-1zM206,573v1h1v-1zM207,573v1h1v-1zM208,574v1h1v-1zM209,574v1h1v-1zM210,575v1h1v-1zM211,575v1h1v-1zM212,576v1h1v-1zM213,576v1h1v-1zM214,576v1h1v-1zM215,576v1h1v-1zM216,576v1h1v-1zM217,576v1h1v-1zM218,576v1h1v-1zM219,576v1h1v-1zM220,576v1h1v-1zM221,576v1h1v-1zM222,576v1h1v-1zM223,576v1h1v-1zM224,576v1h1v-1zM225,576v1h1v-1zM226,576v1h1v-1zM227,572v5h1v-5zM228,563v9h1v-9zM229,554v9h1v-9zM230,545v9h1v-9zM231,536v9h1v-9zM232,527v9h1v-9zM233,518v9h1v-9zM234,513v5h1v-5zM235,512v1h1v-1zM236,511v1h1v-1zM237,510v1h1v-1zM238,510v1h1v-1zM239,509v1h1v-1zM240,508v1h1v-1zM241,507v1h1v-1zM242,507v1h1v-1zM243,506v1h1v-1zM244,506v1h1v-1zM245,505v1h1v-1zM246,505v1h1v-1zM247,504v1h1v-1zM248,504v1h1v-1zM249,504v1h1v-1zM250,503v1h1v-1zM251,503v1h1v-1zM252,503v1h1v-1zM253,503v1h1v-1zM254,502v1h1v-1zM255,502v1h1v-1zM256,502v1h1v-1zM257,501v1h1v-1zM258,501v1h1v-1zM259,501v1h1v-1zM260,501v1h1v-1zM261,500v1h1v-1zM262,500v5h1v-5zM263,505v8h1v-8zM264,513v9h1v-9zM265,522v8h1v-8zM266,530v8h1v-8zM267,538v9h1v-9zM268,547v8h1v-8zM269,555v5h1v-5zM270,558v1h1v-1zM271,557v1h1v-1zM272,555v2h1v-2zM273,554v1h1v-1zM274,553v1h1v-1zM275,552v1h1v-1zM276,551v1h1v-1zM277,551v1h1v-1zM278,550v1h1v-1zM279,550v1h1v-1zM280,549v1h1v-1zM281,549v1h1v-1zM282,548v1h1v-1zM283,548v1h1v-1zM284,547v1h1v-1zM285,547v1h1v-1zM286,546v1h1v-1zM287,546v1h1v-1zM288,545v1h1v-1zM289,545v1h1v-1zM290,543v2h1v-2zM291,539v4h1v-4zM292,536v3h1v-3zM293,532v4h1v-4zM294,528v4h1v-4zM295,525v3h1v-3zM296,521v4h1v-4zM297,519v3h1v-3zM298,522v4h1v-4zM299,526v5h1v-5zM300,531v4h1v-4zM301,535v4h1v-4zM302,539v5h1v-5zM303,544v4h1v-4zM304,548v3h1v-3zM305,547v2h1v-2zM306,545v2h1v-2zM307,542v3h1v-3zM308,540v2h1v-2zM309,538v2h1v-2zM310,536v2h1v-2zM311,533v3h1v-3zM312,531v2h1v-2zM313,529v2h1v-2zM314,527v2h1v-2zM315,525v2h1v-2zM316,523v2h1v-2zM317,521v2h1v-2zM318,519v4h1v-4zM319,523v6h1v-6zM320,529v6h1v-6zM321,535v7h1v-7zM322,542v6h1v-6zM323,548v6h1v-6zM324,554v6h1v-6zM325,560v4h1v-4zM326,562v1h1v-1zM327,561v1h1v-1zM328,560v1h1v-1zM329,560v1h1v-1zM330,559v1h1v-1zM331,558v1h1v-1zM332,554v4h1v-4zM333,548v6h1v-6zM334,541v7h1v-7zM335,534v7h1v-7zM336,528v6h1v-6zM337,521v7h1v-7zM338,515v6h1v-6zM339,511v4h1v-4zM340,510v1h1v-1zM341,509v1h1v-1zM342,508v1h1v-1zM343,507v1h1v-1zM344,506v1h1v-1zM345,505v1h1v-1zM346,504v1h1v-1zM347,504v1h1v-1zM348,503v1h1v-1zM349,503v1h1v-1zM350,502v1h1v-1zM351,502v1h1v-1zM352,501v1h1v-1zM353,501v4h1v-4zM354,505v7h1v-7zM355,512v7h1v-7zM356,519v7h1v-7zM357,526v7h1v-7zM358,533v7h1v-7zM359,540v7h1v-7zM360,547v5h1v-5zM361,552v2h1v-2zM362,554v2h1v-2zM363,556v2h1v-2zM364,558v2h1v-2zM365,560v2h1v-2zM366,562v2h1v-2zM367,564v2h1v-2zM368,564v1h1v-1zM369,563v1h1v-1zM370,561v2h1v-2zM371,560v1h1v-1zM372,559v1h1v-1zM373,558v1h1v-1zM374,557v1h1v-1zM375,558v1h1v-1zM376,558v1h1v-1zM377,559v1h1v-1zM378,560v1h1v-1zM379,561v1h1v-1zM380,561v1h1v-1zM381,562v2h1v-2zM382,564v2h1v-2zM383,566v2h1v-2zM384,568v2h1v-2zM385,570v2h1v-2zM386,572v2h1v-2zM387,574v2h1v-2zM388,575v2h1v-2zM389,573v2h1v-2zM390,571v2h1v-2zM391,568v3h1v-3zM392,566v2h1v-2zM393,564v2h1v-2zM394,562v2h1v-2zM395,558v4h1v-4zM396,553v5h1v-5zM397,549v4h1v-4zM398,544v5h1v-5zM399,539v5h1v-5zM400,535v4h1v-4zM401,530v5h1v-5zM402,527v3h1v-3zM403,529v2h1v-2zM404,531v2h1v-2zM405,533v2h1v-2zM406,535v2h1v-2zM407,537v2h1v-2zM408,539v2h1v-2zM409,541v2h1v-2zM410,541v1h1v-1zM411,539v2h1v-2zM412,538v1h1v-1zM413,537v1h1v-1zM414,535v2h1v-2zM415,534v1h1v-1zM416,532v2h1v-2zM417,529v3h1v-3zM418,526v3h1v-3zM419,523v3h1v-3zM420,521v2h1v-2zM421,518v3h1v-3zM422,515v3h1v-3zM423,513v3h1v-3zM424,516v4h1v-4zM425,520v5h1v-5zM426,525v4h1v-4zM427,529v4h1v-4zM428,533v5h1v-5zM429,538v4h1v-4zM430,542v4h1v-4zM431,546v3h1v-3zM432,549v3h1v-3zM433,552v3h1v-3zM434,555v2h1v-2zM435,557v3h1v-3zM436,560v3h1v-3zM437,562v3h1v-3zM438,556v6h1v-6zM439,551v5h1v-5zM440,545v6h1v-6zM441,540v5h1v-5zM442,535v5h1v-5zM443,529v6h1v-6zM444,525v4h1v-4zM445,523v2h1v-2zM446,520v3h1v-3zM447,517v3h1v-3zM448,515v2h1v-2zM449,512v3h1v-3zM450,510v2h1v-2zM451,508v3h1v-3zM452,511v4h1v-4zM453,515v5h1v-5zM454,520v4h1v-4zM455,524v4h1v-4zM456,528v5h1v-5zM457,533v4h1v-4zM458,537v3h1v-3zM459,540v1h1v-1zM460,541v1h1v-1zM461,542v1h1v-1zM462,542v1h1v-1zM463,543v1h1v-1zM464,544v1h1v-1zM465,544v2h1v-2zM466,541v3h1v-3zM467,537v4h1v-4zM468,534v3h1v-3zM469,531v3h1v-3zM470,527v4h1v-4zM471,524v3h1v-3zM472,522v2h1v-2zM473,520v2h1v-2zM474,518v2h1v-2zM475,516v2h1v-2zM476,514v2h1v-2zM477,512v2h1v-2zM478,510v2h1v-2zM479,509v1h1v-1zM480,509v1h1v-1zM481,508v1h1v-1zM482,508v1h1v-1zM483,507v1h1v-1zM484,507v1h1v-1zM485,506v1h1v-1zM486,506v1h1v-1zM487,505v1h1v-1zM488,505v1h1v-1zM489,504v1h1v-1zM490,503v1h1v-1zM491,502v1h1v-1zM492,502v1h1v-1zM493,501v4h1v-4zM494,505v7h1v-7zM495,512v8h1v-8zM496,520v7h1v-7zM497,527v7h1v-7zM498,534v8h1v-8zM499,542v7h1v-7zM500,549v4h1v-4zM501,547v4h1v-4zM502,544v3h1v-3zM503,540v4h1v-4zM504,537v3h1v-3zM505,534v3h1v-3zM506,530v4h1v-4zM507,527v3h1v-3zM508,525v2h1v-2zM509,523v2h1v-2zM510,521v2h1v-2zM511,519v2h1v-2zM512,517v2h1v-2zM513,515v2h1v-2zM514,514v1h1v-1zM515,513v1h1v-1zM516,512v1h1v-1zM517,510v2h1v-2zM518,509v1h1v-1zM519,508v1h1v-1zM520,507v1h1v-1zM521,506v3h1v-3zM522,509v4h1v-4zM523,513v4h1v-4zM524,517v5h1v-5zM525,522v4h1v-4zM526,526v4h1v-4zM527,530v4h1v-4zM528,534v3h1v-3zM529,534v2h1v-2zM530,533v1h1v-1zM531,531v2h1v-2zM532,530v1h1v-1zM533,529v1h1v-1zM534,527v2h1v-2zM535,525v2h1v-2zM536,522v3h1v-3zM537,519v3h1v-3zM538,515v4h1v-4zM539,512v3h1v-3zM540,509v3h1v-3zM541,506v3h1v-3zM542,504v2h1v-2zM543,504v1h1v-1zM544,504v1h1v-1zM545,504v1h1v-1zM546,503v1h1v-1zM547,503v1h1v-1zM548,503v1h1v-1zM549,503v1h1v-1zM550,504v1h1v-1zM551,505v1h1v-1zM552,506v1h1v-1zM553,506v1h1v-1zM554,507v1h1v-1zM555,508v1h1v-1zM556,509v1h1v-1zM557,508v1h1v-1zM558,507v1h1v-1zM559,506v1h1v-1zM560,506v1h1v-1zM561,505v1h1v-1zM562,504v1h1v-1zM563,503v4h1v-4zM564,507v8h1v-8zM565,515v8h1v-8zM566,523v8h1v-8zM567,531v7h1v-7zM568,538v8h1v-8zM569,546v8h1v-8zM570,554v4h1v-4zM571,551v4h1v-4zM572,547v4h1v-4zM573,543v4h1v-4zM574,539v4h1v-4zM575,535v4h1v-4zM576,531v4h1v-4zM577,528v3h1v-3zM578,529v1h1v-1zM579,530v1h1v-1zM580,531v1h1v-1zM581,532v1h1v-1zM582,533v1h1v-1zM583,534v1h1v-1zM584,534v2h1v-2zM585,530v4h1v-4zM586,526v4h1v-4zM587,522v4h1v-4zM588,519v3h1v-3zM589,515v4h1v-4zM590,511v4h1v-4zM591,509v2h1v-2zM592,509v1h1v-1zM593,508v1h1v-1zM594,508v1h1v-1zM595,507v1h1v-1zM596,507v1h1v-1zM597,506v1h1v-1zM598,506v1h1v-1zM599,506v1h1v-1zM600,505v1h1v-1zM601,505v1h1v-1zM602,504v1h1v-1zM603,504v1h1v-1zM604,503v1h1v-1zM605,503v1h1v-1zM606,503v1h1v-1zM607,502v1h1v-1zM608,502v1h1v-1zM609,501v1h1v-1zM610,501v1h1v-1zM611,500v1h1v-1zM612,500v1h1v-1zM613,500v1h1v-1zM614,500v1h1v-1zM615,500v1h1v-1zM616,500v1h1v-1zM617,500v1h1v-1zM618,500v1h1v-1zM619,500v2h1v-2zM620,502v4h1v-4zM621,506v4h1v-4zM622,510v4h1v-4zM623,514v3h1v-3zM624,517v4h1v-4zM625,521v4h1v-4zM626,525v2h1v-2zM627,525v1h1v-1zM628,524v1h1v-1zM629,523v1h1v-1zM630,522v1h1v-1zM631,521v1h1v-1zM632,520v1h1v-1zM633,518v2h1v-2zM634,516v2h1v-2zM635,514v2h1v-2zM636,511v3h1v-3zM637,509v2h1v-2zM638,507v2h1v-2zM639,505v2h1v-2zM640,503v2h1v-2zM641,505v3h1v-3zM642,508v3h1v-3zM643,511v3h1v-3zM644,514v3h1v-3zM645,517v3h1v-3zM646,520v3h1v-3zM647,523v2h1v-2zM648,523v1h1v-1zM649,522v1h1v-1zM650,521v1h1v-1zM651,521v1h1v-1zM652,520v1h1v-1zM653,519v1h1v-1zM654,518v1h1v-1zM655,516v2h1v-2zM656,514v2h1v-2zM657,512v2h1v-2zM658,510v2h1v-2zM659,508v2h1v-2zM660,506v2h1v-2zM661,505v4h1v-4zM662,509v8h1v-8zM663,517v7h1v-7zM664,524v8h1v-8zM665,532v8h1v-8zM666,540v7h1v-7zM667,547v8h1v-8zM668,555v4h1v-4zM669,555v2h1v-2zM670,552v3h1v-3zM671,550v2h1v-2zM672,548v2h1v-2zM673,545v3h1v-3zM674,543v2h1v-2zM675,540v3h1v-3zM676,536v4h1v-4zM677,532v4h1v-4zM678,528v4h1v-4zM679,525v3h1v-3zM680,521v4h1v-4zM681,517v4h1v-4zM682,515v2h1v-2zM683,516v1h1v-1zM684,516v1h1v-1zM685,517v1h1v-1zM686,517v1h1v-1zM687,518v1h1v-1zM688,518v1h1v-1zM689,519v1h1v-1zM690,518v1h1v-1zM691,517v1h1v-1zM692,516v1h1v-1zM693,516v1h1v-1zM694,515v1h1v-1zM695,514v1h1v-1zM696,513v2h1v-2zM697,515v2h1v-2zM698,517v2h1v-2zM699,519v2h1v-2zM700,521v2h1v-2zM701,523v2h1v-2zM702,525v2h1v-2zM703,527v2h1v-2zM704,524v3h1v-3zM705,521v3h1v-3zM706,518v3h1v-3zM707,516v2h1v-2zM708,513v3h1v-3zM709,510v3h1v-3zM710,508v4h1v-4zM711,512v8h1v-8zM712,520v8h1v-8zM713,528v8h1v-8zM714,536v8h1v-8zM715,544v8h1v-8zM716,552v8h1v-8zM717,560v4h1v-4zM718,563v1h1v-1zM719,562v1h1v-1zM720,562v1h1v-1zM721,561v1h1v-1zM722,561v1h1v-1zM723,560v1h1v-1zM724,560v2h1v-2zM725,562v2h1v-2zM726,564v2h1v-2zM727,566v2h1v-2zM728,568v2h1v-2zM729,570v2h1v-2zM730,572v2h1v-2zM731,574v2h1v-2zM732,575v1h1v-1zM733,575v1h1v-1zM734,575v1h1v-1zM735,576v1h1v-1zM736,576v1h1v-1zM737,576v1h1v-1zM738,573v4h1v-4zM739,566v7h1v-7zM740,559v7h1v-7zM741,552v7h1v-7zM742,546v6h1v-6zM743,539v7h1v-7zM744,532v7h1v-7zM745,528v4h1v-4zM746,526v2h1v-2zM747,524v2h1v-2zM748,522v2h1v-2zM749,520v2h1v-2zM750,518v2h1v-2zM751,516v2h1v-2zM752,515v1h1v-1zM753,515v1h1v-1zM754,515v1h1v-1zM755,515v1h1v-1zM756,515v1h1v-1zM757,515v1h1v-1zM758,515v1h1v-1zM759,515v2h1v-2zM760,517v4h1v-4zM761,521v3h1v-3zM762,524v4h1v-4zM763,528v3h1v-3zM764,531v3h1v-3zM765,534v4h1v-4zM766,538v2h1v-2zM767,539v1h1v-1zM768,538v1h1v-1zM769,538v1h1v-1zM770,537v1h1v-1zM771,537v1h1v-1zM772,536v1h1v-1zM773,536v3h1v-3zM774,539v5h1v-5zM775,544v5h1v-5zM776,549v5h1v-5zM777,554v5h1v-5zM778,559v5h1v-5zM779,564v5h1v-5zM780,568v4h1v-4zM781,561v7h1v-7zM782,554v7h1v-7zM783,547v7h1v-7zM784,541v6h1v-6zM785,534v7h1v-7zM786,527v7h1v-7zM787,523v4h1v-4zM788,521v2h1v-2zM789,520v1h1v-1zM790,518v2h1v-2zM791,517v1h1v-1zM792,516v1h1v-1zM793,514v2h1v-2zM794,513v1h1v-1zM795,511v2h1v-2zM796,510v1h1v-1zM797,508v2h1v-2zM798,506v2h1v-2zM799,505v1h1v-1zM800,503v2h1v-2zM801,502v1h1v-1zM802,502v1h1v-1zM803,502v1h1v-1zM804,502v1h1v-1zM805,503v1h1v-1zM806,503v1h1v-1zM807,503v1h1v-1zM808,503v1h1v-1zM809,503v1h1v-1zM810,502v1h1v-1zM811,502v1h1v-1zM812,502v1h1v-1zM813,502v1h1v-1zM814,501v1h1v-1zM815,501v1h1v-1zM816,501v1h1v-1zM817,501v1h1v-1zM818,501v1h1v-1zM819,500v1h1v-1zM820,500v1h1v-1zM821,500v1h1v-1zM822,500v1h1v-1zM823,500v1h1v-1zM824,500v1h1v-1zM825,500v1h1v-1zM826,500v1h1v-1zM827,500v1h1v-1zM828,500v1h1v-1zM829,500v1h1v-1zM830,501v1h1v-1zM831,502v2h1v-2zM832,504v1h1v-1zM833,505v1h1v-1zM834,506v2h1v-2zM835,508v1h1v-1zM836,509v4h1v-4zM837,513v7h1v-7zM838,520v7h1v-7zM839,527v7h1v-7zM840,534v6h1v-6zM841,540v7h1v-7zM842,547v7h1v-7zM843,554v4h1v-4zM844,558v1h1v-1zM845,559v1h1v-1zM846,560v2h1v-2zM847,562v1h1v-1zM848,563v1h1v-1zM849,564v1h1v-1zM850,564v2h1v-2zM851,560v4h1v-4zM852,557v3h1v-3zM853,553v4h1v-4zM854,549v4h1v-4zM855,546v3h1v-3zM856,542v4h1v-4zM857,540v2h1v-2z" fill="#2eaee6" />
<rect x="27" y="481" width="4" height="1" fill="#000"/><rect x="26" y="482" width="1" height="1" fill="#000"/><rect x="31" y="482" width="1" height="1" fill="#000"/><rect x="25" y="483" width="1" height="1" fill="#000"/><rect x="32" y="483" width="1" height="1" fill="#000"/><rect x="25" y="484" width="1" height="1" fill="#000"/><rect x="32" y="484" width="1" height="1" fill="#000"/><rect x="25" y="485" width="1" height="1" fill="#000"/><rect x="32" y="485" width="1" height="1" fill="#000"/><rect x="25" y="486" width="1" height="1" fill="#000"/><rect x="32" y="486" width="1" height="1" fill="#000"/><rect x="26" y="487" width="1" height="1" fill="#000"/><rect x="31" y="487" width="1" height="1" fill="#000"/><rect x="27" y="488" width="4" height="1" fill="#000"/>
<rect x="28" y="483" width="2" height="1" fill="#ff0000"/><rect x="27" y="484" width="4" height="1" fill="#ff0000"/><rect x="27" y="485" width="4" height="1" fill="#ff0000"/><rect x="28" y="486" width="2" height="1" fill="#ff0000"/><rect x="28" y="478" width="1" height="1" fill="#ff0000"/><rect x="28" y="479" width="1" height="1" fill="#ff0000"/><rect x="28" y="490" width="1" height="1" fill="#ff0000"/><rect x="28" y="491" width="1" height="1" fill="#ff0000"/><rect x="22" y="484" width="2" height="1" fill="#ff0000"/><rect x="34" y="484" width="2" height="1" fill="#ff0000"/><rect x="23" y="479" width="1" height="1" fill="#ff0000"/><rect x="24" y="480" width="1" height="1" fill="#ff0000"/><rect x="34" y="479" width="1" height="1" fill="#ff0000"/><rect x="33" y="480" width="1" height="1" fill="#ff0000"/><rect x="24" y="489" width="1" height="1" fill="#ff0000"/><rect x="23" y="490" width="1" height="1" fill="#ff0000"/><rect x="33" y="489" width="1" height="1" fill="#ff0000"/><rect x="34" y="490" width="1" height="1" fill="#ff0000"/>
<text fill="#000" font-family="'Liberation Sans','Noto Sans CJK SC',sans-serif" font-size="12.5" x="91.5 103.4 115.3 127.2" y="14">现货黄金</text>
<text fill="#ff7a00" font-family="'Liberation Sans','Noto Sans CJK SC',sans-serif" font-size="12.6" x="138.6" y="14.6">【</text>
<text fill="#ff7a00" font-family="'Liberation Sans','Noto Sans CJK SC',sans-serif" font-size="13.8" x="149.7" y="15.1">日</text>
<text fill="#ff7a00" font-family="'Liberation Sans','Noto Sans CJK SC',sans-serif" font-size="13.8" x="163.4" y="15">线</text>
<text fill="#ff7a00" font-family="'Liberation Sans','Noto Sans CJK SC',sans-serif" font-size="12.6" x="177.5" y="14.6">】</text>
<g shape-rendering="geometricPrecision" stroke="#ff8000" fill="none" stroke-width="0.8"><circle cx="192.8" cy="11.3" r="3.9"/><path d="M188.9,11.3h7.8M192.8,7.4v7.8"/></g>
<rect x="206" y="2" width="12" height="13" fill="#a8acb4"/><rect x="205.5" y="1.5" width="11" height="12" fill="#fff" stroke="#000080" stroke-width="1"/><g shape-rendering="geometricPrecision" fill="none" stroke-width="1.1"><polyline points="206.3,8.7 209.5,4.3 212.5,7.7 214.2,5.5 216,5.5" stroke="#ff0000"/><polyline points="206.3,11.6 209.5,7.6 212.5,10.6 214.4,8.6 216,8.6" stroke="#0000ff"/></g>
<rect x="822.5" y="1.5" width="13" height="13" fill="#fff" stroke="#1a7ad9"/><rect x="838.5" y="1.5" width="13" height="13" fill="#fff" stroke="#1a7ad9"/><rect x="854.5" y="1.5" width="13" height="13" fill="#fff" stroke="#1a7ad9"/><rect x="870.5" y="1.5" width="13" height="13" fill="#fff" stroke="#1a7ad9"/><g fill="#1a7ad9" shape-rendering="geometricPrecision"><rect x="828" y="3.2" width="2" height="2.3"/><rect x="828" y="10.4" width="2" height="2.3"/><rect x="828" y="7" width="2" height="2"/><rect x="824.1" y="7" width="3.2" height="2"/><rect x="830.7" y="7" width="3.2" height="2"/></g><g shape-rendering="geometricPrecision" stroke="#1a7ad9" fill="#1a7ad9" stroke-width="1"><path d="M841.4,3.5V12.5" fill="none"/><path d="M840,11.5H850" fill="none"/><path d="M841.4,2l1.9,2.8h-3.8z M841.4,13.7l1.7,-2.2h-3.4z M851,11.5l-2.8,-1.9v3.8z M839.2,11.5l2.2,-1.7v3.4z" stroke="none"/></g><g shape-rendering="geometricPrecision" stroke="#1a7ad9" fill="#1a7ad9" stroke-width="1"><path d="M857.4,3.5V12.5" fill="none"/><path d="M856,11.5H866" fill="none"/><path d="M857.4,2l1.9,2.8h-3.8z M857.4,13.7l1.7,-2.2h-3.4z M867,11.5l-2.8,-1.9v3.8z M855.2,11.5l2.2,-1.7v3.4z" stroke="none"/></g><g shape-rendering="geometricPrecision" fill="#1a7ad9"><rect x="844.2" y="4.2" width="1.3" height="5.6"/><path d="M845.3,7l3.2,-2.9v5.8z"/></g><g shape-rendering="geometricPrecision" fill="#1a7ad9"><path d="M860.1,4.3v5.7l5,-2.85z"/></g><g shape-rendering="geometricPrecision"><rect x="872.5" y="3.5" width="3" height="9" fill="#fff" stroke="#1a7ad9"/><rect x="874.5" y="7" width="4.5" height="2" fill="#1a7ad9"/><path d="M878,4.6l3.8,3.4l-3.8,3.4z" fill="#1a7ad9"/></g>
<rect x="20.5" y="577.5" width="69" height="19" fill="#fff" stroke="#cfd6df"/>
<text fill="#ff7300" font-family="'Liberation Sans','Noto Sans CJK SC',sans-serif" font-size="12.6" font-weight="700" x="34.2 46.6" y="592.6">日线</text>
<path d="M64.6,592.3l4.2,-8.6l4.2,8.6z" fill="#ff7300" shape-rendering="geometricPrecision"/>
<rect x="20" y="597" width="39" height="16" fill="#ff6600"/>
<text fill="#fff" font-family="'Liberation Sans','Noto Sans CJK SC',sans-serif" font-size="12.8" font-weight="500" x="27.2 39.5" y="609.9">指标</text>
<text fill="#1d2a44" font-family="'Liberation Sans','Noto Sans CJK SC',sans-serif" font-size="12.8" x="67.2 79.5" y="609.9">模板</text>
<rect x="99" y="598" width="1" height="15" fill="#c9d1da"/>
<rect x="157" y="598" width="1" height="15" fill="#c9d1da"/>
<rect x="185" y="598" width="1" height="15" fill="#c9d1da"/>
<rect x="225" y="598" width="1" height="15" fill="#c9d1da"/>
<rect x="265" y="598" width="1" height="15" fill="#c9d1da"/>
<rect x="299" y="598" width="1" height="15" fill="#c9d1da"/>
<rect x="333" y="598" width="1" height="15" fill="#c9d1da"/>
<rect x="373" y="598" width="1" height="15" fill="#c9d1da"/>
<rect x="407" y="598" width="1" height="15" fill="#c9d1da"/>
<rect x="435" y="598" width="1" height="15" fill="#c9d1da"/>
<rect x="469" y="598" width="1" height="15" fill="#c9d1da"/>
<rect x="509" y="598" width="1" height="15" fill="#c9d1da"/>
<rect x="543" y="598" width="1" height="15" fill="#c9d1da"/>
<rect x="571" y="598" width="1" height="15" fill="#c9d1da"/>
<rect x="611" y="598" width="1" height="15" fill="#c9d1da"/>
<text fill="#ff7300" font-family="'Liberation Sans','Noto Sans CJK SC',sans-serif" font-size="12.8" x="125.2 137.5" y="609.9">指标</text>
<text fill="#1d2a44" font-family="'Liberation Sans','Noto Sans CJK SC',sans-serif" font-size="12.8" x="579.2 591.5" y="609.9">设置</text>
</svg>
<span class="t" style="top:54.07px;font-size:11.5px;line-height:15.5px;color:#fff;font-family:'Liberation Serif', serif;left:6.70px;transform:scaleX(.76);transform-origin:0 0;">K</span>
<span class="t" style="top:1.44px;font-size:12px;line-height:16px;color:#000;letter-spacing:0.141px;left:220.70px;">MA(20,50,100,200,0,0)</span>
<span class="t" style="top:1.44px;font-size:12px;line-height:16px;color:#4a96f5;letter-spacing:0.295px;left:351.40px;">MA20:2955.06</span>
<span class="t" style="top:1.44px;font-size:12px;line-height:16px;color:#5cc896;letter-spacing:0.262px;left:441.80px;">MA50:2881.57</span>
<span class="t" style="top:1.44px;font-size:12px;line-height:16px;color:#3aaee6;letter-spacing:0.251px;left:532.30px;">MA100:2763.39</span>
<span class="t" style="top:1.44px;font-size:12px;line-height:16px;color:#ff8c46;letter-spacing:0.205px;left:628.60px;">MA200:2638.43</span>
<span class="t" style="top:1.44px;font-size:12px;line-height:16px;color:#e88ae0;letter-spacing:0.250px;left:725.50px;">MA</span>
<span class="t" style="top:12.74px;font-size:12px;line-height:16px;color:#1d2a44;letter-spacing:0.259px;left:42.96px;">3119.75</span>
<span class="t" style="top:12.74px;font-size:12px;line-height:16px;color:#1d2a44;letter-spacing:0.259px;left:888.30px;">3119.75</span>
<span class="t" style="top:68.74px;font-size:12px;line-height:16px;color:#1d2a44;letter-spacing:0.132px;left:42.83px;">2989.35</span>
<span class="t" style="top:68.74px;font-size:12px;line-height:16px;color:#1d2a44;letter-spacing:0.132px;left:888.30px;">2989.35</span>
<span class="t" style="top:124.74px;font-size:12px;line-height:16px;color:#1d2a44;letter-spacing:0.132px;left:42.83px;">2858.95</span>
<span class="t" style="top:124.74px;font-size:12px;line-height:16px;color:#1d2a44;letter-spacing:0.132px;left:888.30px;">2858.95</span>
<span class="t" style="top:180.74px;font-size:12px;line-height:16px;color:#1d2a44;letter-spacing:0.132px;left:42.83px;">2728.54</span>
<span class="t" style="top:180.74px;font-size:12px;line-height:16px;color:#1d2a44;letter-spacing:0.132px;left:888.30px;">2728.54</span>
<span class="t" style="top:236.74px;font-size:12px;line-height:16px;color:#1d2a44;letter-spacing:0.132px;left:42.83px;">2598.14</span>
<span class="t" style="top:236.74px;font-size:12px;line-height:16px;color:#1d2a44;letter-spacing:0.132px;left:888.30px;">2598.14</span>
<span class="t" style="top:292.74px;font-size:12px;line-height:16px;color:#1d2a44;letter-spacing:0.132px;left:42.83px;">2467.73</span>
<span class="t" style="top:292.74px;font-size:12px;line-height:16px;color:#1d2a44;letter-spacing:0.132px;left:888.30px;">2467.73</span>
<span class="t" style="top:371.14px;font-size:12px;line-height:16px;color:#1d2a44;left:56.37px;">59.37</span>
<span class="t" style="top:371.14px;font-size:12px;line-height:16px;color:#1d2a44;left:888.40px;">59.37</span>
<span class="t" style="top:395.34px;font-size:12px;line-height:16px;color:#1d2a44;left:56.37px;">32.08</span>
<span class="t" style="top:395.34px;font-size:12px;line-height:16px;color:#1d2a44;left:888.40px;">32.08</span>
<span class="t" style="top:419.94px;font-size:12px;line-height:16px;color:#1d2a44;left:63.04px;">4.79</span>
<span class="t" style="top:419.94px;font-size:12px;line-height:16px;color:#1d2a44;left:888.40px;">4.79</span>
<span class="t" style="top:444.14px;font-size:12px;line-height:16px;color:#1d2a44;left:52.37px;">-22.51</span>
<span class="t" style="top:444.14px;font-size:12px;line-height:16px;color:#1d2a44;left:888.40px;">-22.51</span>
<span class="t" style="top:491.14px;font-size:12px;line-height:16px;color:#1d2a44;left:56.37px;">99.30</span>
<span class="t" style="top:491.14px;font-size:12px;line-height:16px;color:#1d2a44;left:888.40px;">99.30</span>
<span class="t" style="top:517.14px;font-size:12px;line-height:16px;color:#1d2a44;left:56.37px;">67.33</span>
<span class="t" style="top:517.14px;font-size:12px;line-height:16px;color:#1d2a44;left:888.40px;">67.33</span>
<span class="t" style="top:543.14px;font-size:12px;line-height:16px;color:#1d2a44;left:56.37px;">35.37</span>
<span class="t" style="top:543.14px;font-size:12px;line-height:16px;color:#1d2a44;left:888.40px;">35.37</span>
<span class="t" style="top:149.04px;font-size:12px;line-height:16px;color:#e8475a;font-weight:700;letter-spacing:0.175px;left:155.20px;">2789.95</span>
<span class="t" style="top:273.04px;font-size:12px;line-height:16px;color:#5cb88a;font-weight:700;letter-spacing:0.089px;left:225.70px;">2536.68</span>
<span class="t" style="top:32.64px;font-size:12px;line-height:16px;color:#e8475a;font-weight:700;letter-spacing:0.089px;left:841.40px;">3057.28</span>
<span class="t" style="top:58.04px;font-size:12px;line-height:16px;color:#ff0000;font-weight:700;letter-spacing:0.032px;left:840.60px;">3000.00</span>
<span class="t" style="top:77.04px;font-size:12px;line-height:16px;color:#ff0000;font-weight:700;letter-spacing:0.032px;left:840.60px;">2954.90</span>
<span class="t" style="top:359.84px;font-size:12px;line-height:16px;color:#000;letter-spacing:0.080px;left:92.60px;">MACD(26,12,9)</span>
<span class="t" style="top:359.84px;font-size:12px;line-height:16px;color:#4a96f5;letter-spacing:-0.302px;left:183.00px;">DIFF:43.85</span>
<span class="t" style="top:359.84px;font-size:12px;line-height:16px;color:#5cc896;letter-spacing:-0.115px;left:249.60px;">DEA:40.99</span>
<span class="t" style="top:359.84px;font-size:12px;line-height:16px;color:#3aaee6;letter-spacing:0.153px;left:315.40px;">MACD:5.72</span>
<span class="t" style="top:480.04px;font-size:12px;line-height:16px;color:#000;letter-spacing:-0.086px;left:92.40px;">RSI(14,14,2)</span>
<span class="t" style="top:480.04px;font-size:12px;line-height:16px;color:#4a96f5;letter-spacing:-0.254px;left:165.00px;">RSI1:65.91</span>
<span class="t" style="top:480.04px;font-size:12px;line-height:16px;color:#5cc896;letter-spacing:-0.254px;left:232.90px;">RSI2:65.91</span>
<span class="t" style="top:480.04px;font-size:12px;line-height:16px;color:#3aaee6;letter-spacing:-0.084px;left:300.50px;">RSI3:50.67</span>
<span class="t" style="top:577.84px;font-size:12px;line-height:16px;color:#1d2a44;font-weight:700;letter-spacing:0.098px;left:159.40px;">2024/11</span>
<span class="t" style="top:577.84px;font-size:12px;line-height:16px;color:#1d2a44;font-weight:700;left:306.40px;">2024/12</span>
<span class="t" style="top:577.84px;font-size:12px;line-height:16px;color:#1d2a44;font-weight:700;left:453.40px;">2025/01</span>
<span class="t" style="top:577.84px;font-size:12px;line-height:16px;color:#1d2a44;font-weight:700;left:607.40px;">2025/02</span>
<span class="t" style="top:577.84px;font-size:12px;line-height:16px;color:#1d2a44;font-weight:700;left:747.60px;">2025/03</span>
<span class="t" style="left:825.2px;top:560.9px;font-size:28px;line-height:32px;letter-spacing:2px;color:#d6e2f3;transform:scaleX(1.1);transform-origin:0 0;text-shadow:1px 1px 0.6px rgba(150,125,110,.85);">FX678</span>
<span class="t" style="top:598.57px;font-size:11px;line-height:15px;color:#ff7300;font-family:'Liberation Mono', monospace;letter-spacing:-0.600px;left:107.50px;">VIP</span>
<span class="t" style="top:598.57px;font-size:11px;line-height:15px;color:#27344c;font-family:'Liberation Mono', monospace;letter-spacing:-0.600px;left:165.70px;">MA</span>
<span class="t" style="top:598.57px;font-size:11px;line-height:15px;color:#27344c;font-family:'Liberation Mono', monospace;letter-spacing:-0.600px;left:193.70px;">MACD</span>
<span class="t" style="top:598.57px;font-size:11px;line-height:15px;color:#27344c;font-family:'Liberation Mono', monospace;letter-spacing:-0.600px;left:233.70px;">BIAS</span>
<span class="t" style="top:598.57px;font-size:11px;line-height:15px;color:#27344c;font-family:'Liberation Mono', monospace;letter-spacing:-0.600px;left:273.70px;">CCI</span>
<span class="t" style="top:598.57px;font-size:11px;line-height:15px;color:#27344c;font-family:'Liberation Mono', monospace;letter-spacing:-0.600px;left:307.70px;">KDJ</span>
<span class="t" style="top:598.57px;font-size:11px;line-height:15px;color:#27344c;font-family:'Liberation Mono', monospace;letter-spacing:-0.600px;left:344.70px;">LW&amp;</span>
<span class="t" style="top:598.57px;font-size:11px;line-height:15px;color:#27344c;font-family:'Liberation Mono', monospace;letter-spacing:-0.600px;left:381.70px;">RSI</span>
<span class="t" style="top:598.57px;font-size:11px;line-height:15px;color:#27344c;font-family:'Liberation Mono', monospace;letter-spacing:-0.600px;left:415.70px;">CR</span>
<span class="t" style="top:598.57px;font-size:11px;line-height:15px;color:#27344c;font-family:'Liberation Mono', monospace;letter-spacing:-0.600px;left:443.70px;">PSY</span>
<span class="t" style="top:598.57px;font-size:11px;line-height:15px;color:#27344c;font-family:'Liberation Mono', monospace;letter-spacing:-0.600px;left:477.70px;">BOLL</span>
<span class="t" style="top:598.57px;font-size:11px;line-height:15px;color:#27344c;font-family:'Liberation Mono', monospace;letter-spacing:-0.600px;left:517.70px;">VOL</span>
<span class="t" style="top:598.57px;font-size:11px;line-height:15px;color:#27344c;font-family:'Liberation Mono', monospace;letter-spacing:-0.600px;left:551.70px;">PP</span>
</body></html>
